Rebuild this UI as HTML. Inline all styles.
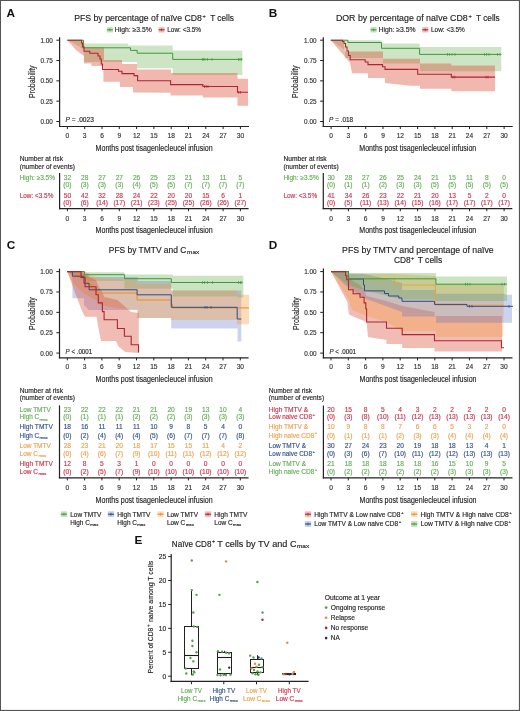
<!DOCTYPE html><html><head><meta charset="utf-8"><style>html,body{margin:0;padding:0;background:#fff;}svg{display:block;will-change:transform;}text{font-family:"Liberation Sans",sans-serif;}</style></head><body>
<svg width="520" height="711" viewBox="0 0 520 711">
<rect x="0" y="0" width="520" height="711" fill="#fff"/>
<text x="6.60" y="16.80" font-size="11.8" fill="#111" font-weight="bold">A</text>
<text x="74.20" y="21.20" font-size="9.2" fill="#222" stroke="#222" stroke-width="0.15" textLength="127.70" lengthAdjust="spacingAndGlyphs">PFS by percentage of naïve CD8</text>
<text x="202.60" y="17.60" font-size="5.6" fill="#222" stroke="#222" stroke-width="0.15">+</text>
<text x="210.20" y="21.20" font-size="9.2" fill="#222" stroke="#222" stroke-width="0.15" textLength="23.70" lengthAdjust="spacingAndGlyphs">T cells</text>
<rect x="106.90" y="27.10" width="6.0" height="5.4" fill="#5aa83a" fill-opacity="0.34"/>
<line x1="106.90" y1="29.80" x2="112.90" y2="29.80" stroke="#3e9a3e" stroke-width="1.1"/>
<line x1="109.90" y1="28.40" x2="109.90" y2="31.20" stroke="#3e9a3e" stroke-width="0.8"/>
<text x="114.80" y="32.40" font-size="6.9" fill="#262626" stroke="#262626" stroke-width="0.15" textLength="37.00" lengthAdjust="spacingAndGlyphs">High: ≥3.5%</text>
<rect x="158.60" y="27.10" width="6.0" height="5.4" fill="#d9442f" fill-opacity="0.34"/>
<line x1="158.60" y1="29.80" x2="164.60" y2="29.80" stroke="#ac2634" stroke-width="1.1"/>
<line x1="161.60" y1="28.40" x2="161.60" y2="31.20" stroke="#ac2634" stroke-width="0.8"/>
<text x="167.30" y="32.40" font-size="6.9" fill="#262626" stroke="#262626" stroke-width="0.15" textLength="33.80" lengthAdjust="spacingAndGlyphs">Low: &lt;3.5%</text>
<path d="M67.40 40.20 L84.00 40.20 L84.00 43.50 L128.00 43.50 L128.00 45.60 L172.70 45.60 L172.70 50.40 L242.30 50.40 L242.30 75.00 L172.70 75.00 L172.70 68.20 L137.00 68.20 L137.00 62.00 L84.00 62.00 L84.00 50.00 L76.00 44.50 L67.40 40.20 Z" fill="#5aa83a" fill-opacity="0.3" stroke="none"/>
<path d="M67.40 40.20 L81.60 40.20 L84.00 47.50 L104.00 47.50 L104.00 60.10 L122.00 60.10 L122.00 64.10 L137.00 64.10 L137.00 69.50 L171.00 69.50 L171.00 72.90 L237.50 72.90 L237.50 78.80 L248.00 78.80 L248.00 105.80 L237.50 105.80 L237.50 97.50 L202.90 97.50 L202.90 95.60 L170.60 95.60 L170.60 92.70 L133.00 92.50 L133.00 87.10 L120.00 87.10 L120.00 81.70 L103.40 81.70 L103.40 66.00 L91.50 66.00 L91.50 63.60 L84.00 63.60 L84.00 56.00 L76.00 50.00 L67.40 40.20 Z" fill="#d9442f" fill-opacity="0.38" stroke="none"/>
<path d="M67.40 40.20 H83.60 V47.80 H130.50 V50.40 H137.20 V53.20 H172.70 V59.40 H242.30" fill="none" stroke="#3e9a3e" stroke-width="1.0" stroke-linejoin="miter"/>
<path d="M67.40 40.20 H81.60 V43.00 H82.60 V47.00 H84.00 V51.30 H89.80 V53.20 H98.00 V56.00 H100.00 V59.00 H101.30 V64.00 H102.50 V69.50 H118.50 V71.20 H122.00 V73.60 H134.00 V75.60 H137.60 V80.80 H170.60 V84.60 H202.90 V86.50 H237.50 V92.30 H248.00" fill="none" stroke="#ac2634" stroke-width="1.1" stroke-linejoin="miter"/>
<line x1="59.60" y1="37.20" x2="59.60" y2="127.05" stroke="#222" stroke-width="1.2"/>
<line x1="59.00" y1="126.50" x2="249.00" y2="126.50" stroke="#222" stroke-width="1.2"/>
<line x1="56.40" y1="40.20" x2="59.60" y2="40.20" stroke="#222" stroke-width="1.0"/>
<text x="52.80" y="42.70" font-size="6.6" fill="#333" stroke="#333" stroke-width="0.15" text-anchor="end" textLength="12.40" lengthAdjust="spacingAndGlyphs">1.00</text>
<line x1="56.40" y1="60.53" x2="59.60" y2="60.53" stroke="#222" stroke-width="1.0"/>
<text x="52.80" y="63.03" font-size="6.6" fill="#333" stroke="#333" stroke-width="0.15" text-anchor="end" textLength="12.40" lengthAdjust="spacingAndGlyphs">0.75</text>
<line x1="56.40" y1="80.85" x2="59.60" y2="80.85" stroke="#222" stroke-width="1.0"/>
<text x="52.80" y="83.35" font-size="6.6" fill="#333" stroke="#333" stroke-width="0.15" text-anchor="end" textLength="12.40" lengthAdjust="spacingAndGlyphs">0.50</text>
<line x1="56.40" y1="101.17" x2="59.60" y2="101.17" stroke="#222" stroke-width="1.0"/>
<text x="52.80" y="103.67" font-size="6.6" fill="#333" stroke="#333" stroke-width="0.15" text-anchor="end" textLength="12.40" lengthAdjust="spacingAndGlyphs">0.25</text>
<line x1="56.40" y1="121.50" x2="59.60" y2="121.50" stroke="#222" stroke-width="1.0"/>
<text x="52.80" y="124.00" font-size="6.6" fill="#333" stroke="#333" stroke-width="0.15" text-anchor="end" textLength="12.40" lengthAdjust="spacingAndGlyphs">0.00</text>
<line x1="67.40" y1="126.50" x2="67.40" y2="129.10" stroke="#222" stroke-width="1.0"/>
<text x="67.40" y="137.80" font-size="6.6" fill="#333" stroke="#333" stroke-width="0.15" text-anchor="middle">0</text>
<line x1="84.70" y1="126.50" x2="84.70" y2="129.10" stroke="#222" stroke-width="1.0"/>
<text x="84.70" y="137.80" font-size="6.6" fill="#333" stroke="#333" stroke-width="0.15" text-anchor="middle">3</text>
<line x1="102.00" y1="126.50" x2="102.00" y2="129.10" stroke="#222" stroke-width="1.0"/>
<text x="102.00" y="137.80" font-size="6.6" fill="#333" stroke="#333" stroke-width="0.15" text-anchor="middle">6</text>
<line x1="119.30" y1="126.50" x2="119.30" y2="129.10" stroke="#222" stroke-width="1.0"/>
<text x="119.30" y="137.80" font-size="6.6" fill="#333" stroke="#333" stroke-width="0.15" text-anchor="middle">9</text>
<line x1="136.60" y1="126.50" x2="136.60" y2="129.10" stroke="#222" stroke-width="1.0"/>
<text x="136.60" y="137.80" font-size="6.6" fill="#333" stroke="#333" stroke-width="0.15" text-anchor="middle">12</text>
<line x1="153.90" y1="126.50" x2="153.90" y2="129.10" stroke="#222" stroke-width="1.0"/>
<text x="153.90" y="137.80" font-size="6.6" fill="#333" stroke="#333" stroke-width="0.15" text-anchor="middle">15</text>
<line x1="171.20" y1="126.50" x2="171.20" y2="129.10" stroke="#222" stroke-width="1.0"/>
<text x="171.20" y="137.80" font-size="6.6" fill="#333" stroke="#333" stroke-width="0.15" text-anchor="middle">18</text>
<line x1="188.50" y1="126.50" x2="188.50" y2="129.10" stroke="#222" stroke-width="1.0"/>
<text x="188.50" y="137.80" font-size="6.6" fill="#333" stroke="#333" stroke-width="0.15" text-anchor="middle">21</text>
<line x1="205.80" y1="126.50" x2="205.80" y2="129.10" stroke="#222" stroke-width="1.0"/>
<text x="205.80" y="137.80" font-size="6.6" fill="#333" stroke="#333" stroke-width="0.15" text-anchor="middle">24</text>
<line x1="223.10" y1="126.50" x2="223.10" y2="129.10" stroke="#222" stroke-width="1.0"/>
<text x="223.10" y="137.80" font-size="6.6" fill="#333" stroke="#333" stroke-width="0.15" text-anchor="middle">27</text>
<line x1="240.40" y1="126.50" x2="240.40" y2="129.10" stroke="#222" stroke-width="1.0"/>
<text x="240.40" y="137.80" font-size="6.6" fill="#333" stroke="#333" stroke-width="0.15" text-anchor="middle">30</text>
<text x="34.80" y="98.10" font-size="8.4" fill="#262626" stroke="#262626" stroke-width="0.15" textLength="32.70" lengthAdjust="spacingAndGlyphs" transform="rotate(-90 34.80 98.10)">Probability</text>
<text x="65.40" y="121.80" font-size="6.6" fill="#262626" stroke="#262626" stroke-width="0.15" textLength="28.40" lengthAdjust="spacingAndGlyphs"><tspan font-style="italic">P</tspan> = .0023</text>
<text x="95.60" y="150.50" font-size="9.1" fill="#222" stroke="#222" stroke-width="0.15" textLength="117.00" lengthAdjust="spacingAndGlyphs">Months post tisagenlecleucel infusion</text>
<text x="19.70" y="161.30" font-size="6.7" fill="#262626" stroke="#262626" stroke-width="0.15" textLength="43.30" lengthAdjust="spacingAndGlyphs">Number at risk</text>
<text x="19.70" y="168.90" font-size="6.7" fill="#262626" stroke="#262626" stroke-width="0.15" textLength="55.30" lengthAdjust="spacingAndGlyphs">(number of events)</text>
<text x="19.70" y="180.20" font-size="6.7" fill="#62ad55" stroke="#62ad55" stroke-width="0.15" textLength="35.30" lengthAdjust="spacingAndGlyphs">High: ≥3.5%</text>
<text x="19.70" y="198.20" font-size="6.7" fill="#c8364f" stroke="#c8364f" stroke-width="0.15" textLength="33.70" lengthAdjust="spacingAndGlyphs">Low: &lt;3.5%</text>
<line x1="59.60" y1="173.00" x2="59.60" y2="209.20" stroke="#222" stroke-width="1.2"/>
<line x1="59.00" y1="208.60" x2="248.60" y2="208.60" stroke="#222" stroke-width="1.2"/>
<text x="67.40" y="179.60" font-size="6.6" fill="#62ad55" stroke="#62ad55" stroke-width="0.15" text-anchor="middle">32</text>
<text x="67.40" y="186.80" font-size="6.6" fill="#62ad55" stroke="#62ad55" stroke-width="0.15" text-anchor="middle">(0)</text>
<text x="67.40" y="197.70" font-size="6.6" fill="#c8364f" stroke="#c8364f" stroke-width="0.15" text-anchor="middle">50</text>
<text x="67.40" y="205.00" font-size="6.6" fill="#c8364f" stroke="#c8364f" stroke-width="0.15" text-anchor="middle">(0)</text>
<text x="84.70" y="179.60" font-size="6.6" fill="#62ad55" stroke="#62ad55" stroke-width="0.15" text-anchor="middle">28</text>
<text x="84.70" y="186.80" font-size="6.6" fill="#62ad55" stroke="#62ad55" stroke-width="0.15" text-anchor="middle">(3)</text>
<text x="84.70" y="197.70" font-size="6.6" fill="#c8364f" stroke="#c8364f" stroke-width="0.15" text-anchor="middle">42</text>
<text x="84.70" y="205.00" font-size="6.6" fill="#c8364f" stroke="#c8364f" stroke-width="0.15" text-anchor="middle">(6)</text>
<text x="102.00" y="179.60" font-size="6.6" fill="#62ad55" stroke="#62ad55" stroke-width="0.15" text-anchor="middle">27</text>
<text x="102.00" y="186.80" font-size="6.6" fill="#62ad55" stroke="#62ad55" stroke-width="0.15" text-anchor="middle">(3)</text>
<text x="102.00" y="197.70" font-size="6.6" fill="#c8364f" stroke="#c8364f" stroke-width="0.15" text-anchor="middle">32</text>
<text x="102.00" y="205.00" font-size="6.6" fill="#c8364f" stroke="#c8364f" stroke-width="0.15" text-anchor="middle">(14)</text>
<text x="119.30" y="179.60" font-size="6.6" fill="#62ad55" stroke="#62ad55" stroke-width="0.15" text-anchor="middle">27</text>
<text x="119.30" y="186.80" font-size="6.6" fill="#62ad55" stroke="#62ad55" stroke-width="0.15" text-anchor="middle">(3)</text>
<text x="119.30" y="197.70" font-size="6.6" fill="#c8364f" stroke="#c8364f" stroke-width="0.15" text-anchor="middle">28</text>
<text x="119.30" y="205.00" font-size="6.6" fill="#c8364f" stroke="#c8364f" stroke-width="0.15" text-anchor="middle">(17)</text>
<text x="136.60" y="179.60" font-size="6.6" fill="#62ad55" stroke="#62ad55" stroke-width="0.15" text-anchor="middle">26</text>
<text x="136.60" y="186.80" font-size="6.6" fill="#62ad55" stroke="#62ad55" stroke-width="0.15" text-anchor="middle">(4)</text>
<text x="136.60" y="197.70" font-size="6.6" fill="#c8364f" stroke="#c8364f" stroke-width="0.15" text-anchor="middle">24</text>
<text x="136.60" y="205.00" font-size="6.6" fill="#c8364f" stroke="#c8364f" stroke-width="0.15" text-anchor="middle">(21)</text>
<text x="153.90" y="179.60" font-size="6.6" fill="#62ad55" stroke="#62ad55" stroke-width="0.15" text-anchor="middle">25</text>
<text x="153.90" y="186.80" font-size="6.6" fill="#62ad55" stroke="#62ad55" stroke-width="0.15" text-anchor="middle">(5)</text>
<text x="153.90" y="197.70" font-size="6.6" fill="#c8364f" stroke="#c8364f" stroke-width="0.15" text-anchor="middle">22</text>
<text x="153.90" y="205.00" font-size="6.6" fill="#c8364f" stroke="#c8364f" stroke-width="0.15" text-anchor="middle">(23)</text>
<text x="171.20" y="179.60" font-size="6.6" fill="#62ad55" stroke="#62ad55" stroke-width="0.15" text-anchor="middle">23</text>
<text x="171.20" y="186.80" font-size="6.6" fill="#62ad55" stroke="#62ad55" stroke-width="0.15" text-anchor="middle">(5)</text>
<text x="171.20" y="197.70" font-size="6.6" fill="#c8364f" stroke="#c8364f" stroke-width="0.15" text-anchor="middle">20</text>
<text x="171.20" y="205.00" font-size="6.6" fill="#c8364f" stroke="#c8364f" stroke-width="0.15" text-anchor="middle">(25)</text>
<text x="188.50" y="179.60" font-size="6.6" fill="#62ad55" stroke="#62ad55" stroke-width="0.15" text-anchor="middle">21</text>
<text x="188.50" y="186.80" font-size="6.6" fill="#62ad55" stroke="#62ad55" stroke-width="0.15" text-anchor="middle">(7)</text>
<text x="188.50" y="197.70" font-size="6.6" fill="#c8364f" stroke="#c8364f" stroke-width="0.15" text-anchor="middle">20</text>
<text x="188.50" y="205.00" font-size="6.6" fill="#c8364f" stroke="#c8364f" stroke-width="0.15" text-anchor="middle">(25)</text>
<text x="205.80" y="179.60" font-size="6.6" fill="#62ad55" stroke="#62ad55" stroke-width="0.15" text-anchor="middle">13</text>
<text x="205.80" y="186.80" font-size="6.6" fill="#62ad55" stroke="#62ad55" stroke-width="0.15" text-anchor="middle">(7)</text>
<text x="205.80" y="197.70" font-size="6.6" fill="#c8364f" stroke="#c8364f" stroke-width="0.15" text-anchor="middle">15</text>
<text x="205.80" y="205.00" font-size="6.6" fill="#c8364f" stroke="#c8364f" stroke-width="0.15" text-anchor="middle">(26)</text>
<text x="223.10" y="179.60" font-size="6.6" fill="#62ad55" stroke="#62ad55" stroke-width="0.15" text-anchor="middle">11</text>
<text x="223.10" y="186.80" font-size="6.6" fill="#62ad55" stroke="#62ad55" stroke-width="0.15" text-anchor="middle">(7)</text>
<text x="223.10" y="197.70" font-size="6.6" fill="#c8364f" stroke="#c8364f" stroke-width="0.15" text-anchor="middle">6</text>
<text x="223.10" y="205.00" font-size="6.6" fill="#c8364f" stroke="#c8364f" stroke-width="0.15" text-anchor="middle">(26)</text>
<text x="240.40" y="179.60" font-size="6.6" fill="#62ad55" stroke="#62ad55" stroke-width="0.15" text-anchor="middle">5</text>
<text x="240.40" y="186.80" font-size="6.6" fill="#62ad55" stroke="#62ad55" stroke-width="0.15" text-anchor="middle">(7)</text>
<text x="240.40" y="197.70" font-size="6.6" fill="#c8364f" stroke="#c8364f" stroke-width="0.15" text-anchor="middle">1</text>
<text x="240.40" y="205.00" font-size="6.6" fill="#c8364f" stroke="#c8364f" stroke-width="0.15" text-anchor="middle">(27)</text>
<line x1="67.40" y1="208.60" x2="67.40" y2="211.20" stroke="#222" stroke-width="1.0"/>
<text x="67.40" y="220.90" font-size="6.6" fill="#333" stroke="#333" stroke-width="0.15" text-anchor="middle">0</text>
<line x1="84.70" y1="208.60" x2="84.70" y2="211.20" stroke="#222" stroke-width="1.0"/>
<text x="84.70" y="220.90" font-size="6.6" fill="#333" stroke="#333" stroke-width="0.15" text-anchor="middle">3</text>
<line x1="102.00" y1="208.60" x2="102.00" y2="211.20" stroke="#222" stroke-width="1.0"/>
<text x="102.00" y="220.90" font-size="6.6" fill="#333" stroke="#333" stroke-width="0.15" text-anchor="middle">6</text>
<line x1="119.30" y1="208.60" x2="119.30" y2="211.20" stroke="#222" stroke-width="1.0"/>
<text x="119.30" y="220.90" font-size="6.6" fill="#333" stroke="#333" stroke-width="0.15" text-anchor="middle">9</text>
<line x1="136.60" y1="208.60" x2="136.60" y2="211.20" stroke="#222" stroke-width="1.0"/>
<text x="136.60" y="220.90" font-size="6.6" fill="#333" stroke="#333" stroke-width="0.15" text-anchor="middle">12</text>
<line x1="153.90" y1="208.60" x2="153.90" y2="211.20" stroke="#222" stroke-width="1.0"/>
<text x="153.90" y="220.90" font-size="6.6" fill="#333" stroke="#333" stroke-width="0.15" text-anchor="middle">15</text>
<line x1="171.20" y1="208.60" x2="171.20" y2="211.20" stroke="#222" stroke-width="1.0"/>
<text x="171.20" y="220.90" font-size="6.6" fill="#333" stroke="#333" stroke-width="0.15" text-anchor="middle">18</text>
<line x1="188.50" y1="208.60" x2="188.50" y2="211.20" stroke="#222" stroke-width="1.0"/>
<text x="188.50" y="220.90" font-size="6.6" fill="#333" stroke="#333" stroke-width="0.15" text-anchor="middle">21</text>
<line x1="205.80" y1="208.60" x2="205.80" y2="211.20" stroke="#222" stroke-width="1.0"/>
<text x="205.80" y="220.90" font-size="6.6" fill="#333" stroke="#333" stroke-width="0.15" text-anchor="middle">24</text>
<line x1="223.10" y1="208.60" x2="223.10" y2="211.20" stroke="#222" stroke-width="1.0"/>
<text x="223.10" y="220.90" font-size="6.6" fill="#333" stroke="#333" stroke-width="0.15" text-anchor="middle">27</text>
<line x1="240.40" y1="208.60" x2="240.40" y2="211.20" stroke="#222" stroke-width="1.0"/>
<text x="240.40" y="220.90" font-size="6.6" fill="#333" stroke="#333" stroke-width="0.15" text-anchor="middle">30</text>
<text x="95.60" y="233.40" font-size="9.1" fill="#222" stroke="#222" stroke-width="0.15" textLength="117.00" lengthAdjust="spacingAndGlyphs">Months post tisagenlecleucel infusion</text>
<text x="268.70" y="16.80" font-size="11.8" fill="#111" font-weight="bold">B</text>
<text x="335.90" y="21.20" font-size="9.2" fill="#222" stroke="#222" stroke-width="0.15" textLength="131.80" lengthAdjust="spacingAndGlyphs">DOR by percentage of naïve CD8</text>
<text x="468.40" y="17.60" font-size="5.6" fill="#222" stroke="#222" stroke-width="0.15">+</text>
<text x="476.00" y="21.20" font-size="9.2" fill="#222" stroke="#222" stroke-width="0.15" textLength="23.70" lengthAdjust="spacingAndGlyphs">T cells</text>
<rect x="370.60" y="27.10" width="6.0" height="5.4" fill="#5aa83a" fill-opacity="0.34"/>
<line x1="370.60" y1="29.80" x2="376.60" y2="29.80" stroke="#3e9a3e" stroke-width="1.1"/>
<line x1="373.60" y1="28.40" x2="373.60" y2="31.20" stroke="#3e9a3e" stroke-width="0.8"/>
<text x="378.50" y="32.40" font-size="6.9" fill="#262626" stroke="#262626" stroke-width="0.15" textLength="37.00" lengthAdjust="spacingAndGlyphs">High: ≥3.5%</text>
<rect x="422.30" y="27.10" width="6.0" height="5.4" fill="#d9442f" fill-opacity="0.34"/>
<line x1="422.30" y1="29.80" x2="428.30" y2="29.80" stroke="#ac2634" stroke-width="1.1"/>
<line x1="425.30" y1="28.40" x2="425.30" y2="31.20" stroke="#ac2634" stroke-width="0.8"/>
<text x="431.00" y="32.40" font-size="6.9" fill="#262626" stroke="#262626" stroke-width="0.15" textLength="33.80" lengthAdjust="spacingAndGlyphs">Low: &lt;3.5%</text>
<path d="M330.80 40.20 L381.50 40.20 L381.50 43.50 L419.60 43.50 L419.60 46.90 L501.30 46.90 L501.30 71.30 L420.00 71.30 L420.00 63.60 L383.00 63.60 L383.00 57.90 L345.00 57.90 L345.00 50.00 L330.80 40.20 Z" fill="#5aa83a" fill-opacity="0.3" stroke="none"/>
<path d="M330.80 40.20 L343.00 40.20 L345.00 51.50 L383.00 51.50 L383.00 58.80 L420.00 58.80 L420.00 63.60 L451.30 63.60 L451.30 65.60 L495.00 65.60 L495.00 91.20 L451.30 91.20 L451.30 88.70 L420.00 88.70 L420.00 85.80 L410.00 85.80 L385.00 82.90 L385.00 78.00 L368.00 78.00 L368.00 73.30 L352.00 73.30 L350.00 62.70 L330.80 40.20 Z" fill="#d9442f" fill-opacity="0.38" stroke="none"/>
<path d="M330.80 40.20 H347.90 V42.50 H381.50 V48.30 H419.60 V54.40 H501.30" fill="none" stroke="#3e9a3e" stroke-width="1.0" stroke-linejoin="miter"/>
<path d="M330.80 40.20 H342.50 V41.50 H344.00 V43.50 H345.50 V47.00 H347.00 V51.00 H348.50 V55.50 H350.20 V59.80 H365.20 V62.00 H368.00 V64.60 H382.50 V66.80 H385.00 V69.40 H417.70 V74.20 H451.30 V77.10 H495.00" fill="none" stroke="#ac2634" stroke-width="1.1" stroke-linejoin="miter"/>
<line x1="323.30" y1="37.20" x2="323.30" y2="127.05" stroke="#222" stroke-width="1.2"/>
<line x1="322.70" y1="126.50" x2="512.70" y2="126.50" stroke="#222" stroke-width="1.2"/>
<line x1="320.10" y1="40.20" x2="323.30" y2="40.20" stroke="#222" stroke-width="1.0"/>
<text x="316.50" y="42.70" font-size="6.6" fill="#333" stroke="#333" stroke-width="0.15" text-anchor="end" textLength="12.40" lengthAdjust="spacingAndGlyphs">1.00</text>
<line x1="320.10" y1="60.53" x2="323.30" y2="60.53" stroke="#222" stroke-width="1.0"/>
<text x="316.50" y="63.03" font-size="6.6" fill="#333" stroke="#333" stroke-width="0.15" text-anchor="end" textLength="12.40" lengthAdjust="spacingAndGlyphs">0.75</text>
<line x1="320.10" y1="80.85" x2="323.30" y2="80.85" stroke="#222" stroke-width="1.0"/>
<text x="316.50" y="83.35" font-size="6.6" fill="#333" stroke="#333" stroke-width="0.15" text-anchor="end" textLength="12.40" lengthAdjust="spacingAndGlyphs">0.50</text>
<line x1="320.10" y1="101.17" x2="323.30" y2="101.17" stroke="#222" stroke-width="1.0"/>
<text x="316.50" y="103.67" font-size="6.6" fill="#333" stroke="#333" stroke-width="0.15" text-anchor="end" textLength="12.40" lengthAdjust="spacingAndGlyphs">0.25</text>
<line x1="320.10" y1="121.50" x2="323.30" y2="121.50" stroke="#222" stroke-width="1.0"/>
<text x="316.50" y="124.00" font-size="6.6" fill="#333" stroke="#333" stroke-width="0.15" text-anchor="end" textLength="12.40" lengthAdjust="spacingAndGlyphs">0.00</text>
<line x1="331.10" y1="126.50" x2="331.10" y2="129.10" stroke="#222" stroke-width="1.0"/>
<text x="331.10" y="137.80" font-size="6.6" fill="#333" stroke="#333" stroke-width="0.15" text-anchor="middle">0</text>
<line x1="348.40" y1="126.50" x2="348.40" y2="129.10" stroke="#222" stroke-width="1.0"/>
<text x="348.40" y="137.80" font-size="6.6" fill="#333" stroke="#333" stroke-width="0.15" text-anchor="middle">3</text>
<line x1="365.70" y1="126.50" x2="365.70" y2="129.10" stroke="#222" stroke-width="1.0"/>
<text x="365.70" y="137.80" font-size="6.6" fill="#333" stroke="#333" stroke-width="0.15" text-anchor="middle">6</text>
<line x1="383.00" y1="126.50" x2="383.00" y2="129.10" stroke="#222" stroke-width="1.0"/>
<text x="383.00" y="137.80" font-size="6.6" fill="#333" stroke="#333" stroke-width="0.15" text-anchor="middle">9</text>
<line x1="400.30" y1="126.50" x2="400.30" y2="129.10" stroke="#222" stroke-width="1.0"/>
<text x="400.30" y="137.80" font-size="6.6" fill="#333" stroke="#333" stroke-width="0.15" text-anchor="middle">12</text>
<line x1="417.60" y1="126.50" x2="417.60" y2="129.10" stroke="#222" stroke-width="1.0"/>
<text x="417.60" y="137.80" font-size="6.6" fill="#333" stroke="#333" stroke-width="0.15" text-anchor="middle">15</text>
<line x1="434.90" y1="126.50" x2="434.90" y2="129.10" stroke="#222" stroke-width="1.0"/>
<text x="434.90" y="137.80" font-size="6.6" fill="#333" stroke="#333" stroke-width="0.15" text-anchor="middle">18</text>
<line x1="452.20" y1="126.50" x2="452.20" y2="129.10" stroke="#222" stroke-width="1.0"/>
<text x="452.20" y="137.80" font-size="6.6" fill="#333" stroke="#333" stroke-width="0.15" text-anchor="middle">21</text>
<line x1="469.50" y1="126.50" x2="469.50" y2="129.10" stroke="#222" stroke-width="1.0"/>
<text x="469.50" y="137.80" font-size="6.6" fill="#333" stroke="#333" stroke-width="0.15" text-anchor="middle">24</text>
<line x1="486.80" y1="126.50" x2="486.80" y2="129.10" stroke="#222" stroke-width="1.0"/>
<text x="486.80" y="137.80" font-size="6.6" fill="#333" stroke="#333" stroke-width="0.15" text-anchor="middle">27</text>
<line x1="504.10" y1="126.50" x2="504.10" y2="129.10" stroke="#222" stroke-width="1.0"/>
<text x="504.10" y="137.80" font-size="6.6" fill="#333" stroke="#333" stroke-width="0.15" text-anchor="middle">30</text>
<text x="298.50" y="98.10" font-size="8.4" fill="#262626" stroke="#262626" stroke-width="0.15" textLength="32.70" lengthAdjust="spacingAndGlyphs" transform="rotate(-90 298.50 98.10)">Probability</text>
<text x="329.10" y="121.80" font-size="6.6" fill="#262626" stroke="#262626" stroke-width="0.15" textLength="24.10" lengthAdjust="spacingAndGlyphs"><tspan font-style="italic">P</tspan> = .018</text>
<text x="359.30" y="150.50" font-size="9.1" fill="#222" stroke="#222" stroke-width="0.15" textLength="117.00" lengthAdjust="spacingAndGlyphs">Months post tisagenlecleucel infusion</text>
<text x="283.40" y="161.30" font-size="6.7" fill="#262626" stroke="#262626" stroke-width="0.15" textLength="43.30" lengthAdjust="spacingAndGlyphs">Number at risk</text>
<text x="283.40" y="168.90" font-size="6.7" fill="#262626" stroke="#262626" stroke-width="0.15" textLength="55.30" lengthAdjust="spacingAndGlyphs">(number of events)</text>
<text x="283.40" y="180.20" font-size="6.7" fill="#62ad55" stroke="#62ad55" stroke-width="0.15" textLength="35.30" lengthAdjust="spacingAndGlyphs">High: ≥3.5%</text>
<text x="283.40" y="198.20" font-size="6.7" fill="#c8364f" stroke="#c8364f" stroke-width="0.15" textLength="33.70" lengthAdjust="spacingAndGlyphs">Low: &lt;3.5%</text>
<line x1="323.30" y1="173.00" x2="323.30" y2="209.20" stroke="#222" stroke-width="1.2"/>
<line x1="322.70" y1="208.60" x2="512.30" y2="208.60" stroke="#222" stroke-width="1.2"/>
<text x="331.10" y="179.60" font-size="6.6" fill="#62ad55" stroke="#62ad55" stroke-width="0.15" text-anchor="middle">30</text>
<text x="331.10" y="186.80" font-size="6.6" fill="#62ad55" stroke="#62ad55" stroke-width="0.15" text-anchor="middle">(0)</text>
<text x="331.10" y="197.70" font-size="6.6" fill="#c8364f" stroke="#c8364f" stroke-width="0.15" text-anchor="middle">41</text>
<text x="331.10" y="205.00" font-size="6.6" fill="#c8364f" stroke="#c8364f" stroke-width="0.15" text-anchor="middle">(0)</text>
<text x="348.40" y="179.60" font-size="6.6" fill="#62ad55" stroke="#62ad55" stroke-width="0.15" text-anchor="middle">28</text>
<text x="348.40" y="186.80" font-size="6.6" fill="#62ad55" stroke="#62ad55" stroke-width="0.15" text-anchor="middle">(1)</text>
<text x="348.40" y="197.70" font-size="6.6" fill="#c8364f" stroke="#c8364f" stroke-width="0.15" text-anchor="middle">34</text>
<text x="348.40" y="205.00" font-size="6.6" fill="#c8364f" stroke="#c8364f" stroke-width="0.15" text-anchor="middle">(5)</text>
<text x="365.70" y="179.60" font-size="6.6" fill="#62ad55" stroke="#62ad55" stroke-width="0.15" text-anchor="middle">27</text>
<text x="365.70" y="186.80" font-size="6.6" fill="#62ad55" stroke="#62ad55" stroke-width="0.15" text-anchor="middle">(1)</text>
<text x="365.70" y="197.70" font-size="6.6" fill="#c8364f" stroke="#c8364f" stroke-width="0.15" text-anchor="middle">26</text>
<text x="365.70" y="205.00" font-size="6.6" fill="#c8364f" stroke="#c8364f" stroke-width="0.15" text-anchor="middle">(11)</text>
<text x="383.00" y="179.60" font-size="6.6" fill="#62ad55" stroke="#62ad55" stroke-width="0.15" text-anchor="middle">26</text>
<text x="383.00" y="186.80" font-size="6.6" fill="#62ad55" stroke="#62ad55" stroke-width="0.15" text-anchor="middle">(2)</text>
<text x="383.00" y="197.70" font-size="6.6" fill="#c8364f" stroke="#c8364f" stroke-width="0.15" text-anchor="middle">23</text>
<text x="383.00" y="205.00" font-size="6.6" fill="#c8364f" stroke="#c8364f" stroke-width="0.15" text-anchor="middle">(13)</text>
<text x="400.30" y="179.60" font-size="6.6" fill="#62ad55" stroke="#62ad55" stroke-width="0.15" text-anchor="middle">25</text>
<text x="400.30" y="186.80" font-size="6.6" fill="#62ad55" stroke="#62ad55" stroke-width="0.15" text-anchor="middle">(3)</text>
<text x="400.30" y="197.70" font-size="6.6" fill="#c8364f" stroke="#c8364f" stroke-width="0.15" text-anchor="middle">22</text>
<text x="400.30" y="205.00" font-size="6.6" fill="#c8364f" stroke="#c8364f" stroke-width="0.15" text-anchor="middle">(14)</text>
<text x="417.60" y="179.60" font-size="6.6" fill="#62ad55" stroke="#62ad55" stroke-width="0.15" text-anchor="middle">24</text>
<text x="417.60" y="186.80" font-size="6.6" fill="#62ad55" stroke="#62ad55" stroke-width="0.15" text-anchor="middle">(3)</text>
<text x="417.60" y="197.70" font-size="6.6" fill="#c8364f" stroke="#c8364f" stroke-width="0.15" text-anchor="middle">21</text>
<text x="417.60" y="205.00" font-size="6.6" fill="#c8364f" stroke="#c8364f" stroke-width="0.15" text-anchor="middle">(15)</text>
<text x="434.90" y="179.60" font-size="6.6" fill="#62ad55" stroke="#62ad55" stroke-width="0.15" text-anchor="middle">21</text>
<text x="434.90" y="186.80" font-size="6.6" fill="#62ad55" stroke="#62ad55" stroke-width="0.15" text-anchor="middle">(5)</text>
<text x="434.90" y="197.70" font-size="6.6" fill="#c8364f" stroke="#c8364f" stroke-width="0.15" text-anchor="middle">20</text>
<text x="434.90" y="205.00" font-size="6.6" fill="#c8364f" stroke="#c8364f" stroke-width="0.15" text-anchor="middle">(16)</text>
<text x="452.20" y="179.60" font-size="6.6" fill="#62ad55" stroke="#62ad55" stroke-width="0.15" text-anchor="middle">15</text>
<text x="452.20" y="186.80" font-size="6.6" fill="#62ad55" stroke="#62ad55" stroke-width="0.15" text-anchor="middle">(5)</text>
<text x="452.20" y="197.70" font-size="6.6" fill="#c8364f" stroke="#c8364f" stroke-width="0.15" text-anchor="middle">13</text>
<text x="452.20" y="205.00" font-size="6.6" fill="#c8364f" stroke="#c8364f" stroke-width="0.15" text-anchor="middle">(17)</text>
<text x="469.50" y="179.60" font-size="6.6" fill="#62ad55" stroke="#62ad55" stroke-width="0.15" text-anchor="middle">11</text>
<text x="469.50" y="186.80" font-size="6.6" fill="#62ad55" stroke="#62ad55" stroke-width="0.15" text-anchor="middle">(5)</text>
<text x="469.50" y="197.70" font-size="6.6" fill="#c8364f" stroke="#c8364f" stroke-width="0.15" text-anchor="middle">5</text>
<text x="469.50" y="205.00" font-size="6.6" fill="#c8364f" stroke="#c8364f" stroke-width="0.15" text-anchor="middle">(17)</text>
<text x="486.80" y="179.60" font-size="6.6" fill="#62ad55" stroke="#62ad55" stroke-width="0.15" text-anchor="middle">8</text>
<text x="486.80" y="186.80" font-size="6.6" fill="#62ad55" stroke="#62ad55" stroke-width="0.15" text-anchor="middle">(5)</text>
<text x="486.80" y="197.70" font-size="6.6" fill="#c8364f" stroke="#c8364f" stroke-width="0.15" text-anchor="middle">2</text>
<text x="486.80" y="205.00" font-size="6.6" fill="#c8364f" stroke="#c8364f" stroke-width="0.15" text-anchor="middle">(17)</text>
<text x="504.10" y="179.60" font-size="6.6" fill="#62ad55" stroke="#62ad55" stroke-width="0.15" text-anchor="middle">0</text>
<text x="504.10" y="186.80" font-size="6.6" fill="#62ad55" stroke="#62ad55" stroke-width="0.15" text-anchor="middle">(5)</text>
<text x="504.10" y="197.70" font-size="6.6" fill="#c8364f" stroke="#c8364f" stroke-width="0.15" text-anchor="middle">0</text>
<text x="504.10" y="205.00" font-size="6.6" fill="#c8364f" stroke="#c8364f" stroke-width="0.15" text-anchor="middle">(17)</text>
<line x1="331.10" y1="208.60" x2="331.10" y2="211.20" stroke="#222" stroke-width="1.0"/>
<text x="331.10" y="220.90" font-size="6.6" fill="#333" stroke="#333" stroke-width="0.15" text-anchor="middle">0</text>
<line x1="348.40" y1="208.60" x2="348.40" y2="211.20" stroke="#222" stroke-width="1.0"/>
<text x="348.40" y="220.90" font-size="6.6" fill="#333" stroke="#333" stroke-width="0.15" text-anchor="middle">3</text>
<line x1="365.70" y1="208.60" x2="365.70" y2="211.20" stroke="#222" stroke-width="1.0"/>
<text x="365.70" y="220.90" font-size="6.6" fill="#333" stroke="#333" stroke-width="0.15" text-anchor="middle">6</text>
<line x1="383.00" y1="208.60" x2="383.00" y2="211.20" stroke="#222" stroke-width="1.0"/>
<text x="383.00" y="220.90" font-size="6.6" fill="#333" stroke="#333" stroke-width="0.15" text-anchor="middle">9</text>
<line x1="400.30" y1="208.60" x2="400.30" y2="211.20" stroke="#222" stroke-width="1.0"/>
<text x="400.30" y="220.90" font-size="6.6" fill="#333" stroke="#333" stroke-width="0.15" text-anchor="middle">12</text>
<line x1="417.60" y1="208.60" x2="417.60" y2="211.20" stroke="#222" stroke-width="1.0"/>
<text x="417.60" y="220.90" font-size="6.6" fill="#333" stroke="#333" stroke-width="0.15" text-anchor="middle">15</text>
<line x1="434.90" y1="208.60" x2="434.90" y2="211.20" stroke="#222" stroke-width="1.0"/>
<text x="434.90" y="220.90" font-size="6.6" fill="#333" stroke="#333" stroke-width="0.15" text-anchor="middle">18</text>
<line x1="452.20" y1="208.60" x2="452.20" y2="211.20" stroke="#222" stroke-width="1.0"/>
<text x="452.20" y="220.90" font-size="6.6" fill="#333" stroke="#333" stroke-width="0.15" text-anchor="middle">21</text>
<line x1="469.50" y1="208.60" x2="469.50" y2="211.20" stroke="#222" stroke-width="1.0"/>
<text x="469.50" y="220.90" font-size="6.6" fill="#333" stroke="#333" stroke-width="0.15" text-anchor="middle">24</text>
<line x1="486.80" y1="208.60" x2="486.80" y2="211.20" stroke="#222" stroke-width="1.0"/>
<text x="486.80" y="220.90" font-size="6.6" fill="#333" stroke="#333" stroke-width="0.15" text-anchor="middle">27</text>
<line x1="504.10" y1="208.60" x2="504.10" y2="211.20" stroke="#222" stroke-width="1.0"/>
<text x="504.10" y="220.90" font-size="6.6" fill="#333" stroke="#333" stroke-width="0.15" text-anchor="middle">30</text>
<text x="359.30" y="233.40" font-size="9.1" fill="#222" stroke="#222" stroke-width="0.15" textLength="117.00" lengthAdjust="spacingAndGlyphs">Months post tisagenlecleucel infusion</text>
<text x="6.80" y="248.60" font-size="11.8" fill="#111" font-weight="bold">C</text>
<text x="108.80" y="252.70" font-size="9.2" fill="#222" stroke="#222" stroke-width="0.15" textLength="77.50" lengthAdjust="spacingAndGlyphs">PFS by TMTV and C</text>
<text x="187.10" y="254.40" font-size="5.9" fill="#222" stroke="#222" stroke-width="0.15" textLength="12.10" lengthAdjust="spacingAndGlyphs">max</text>
<path d="M67.30 271.60 L85.00 271.60 L85.00 272.30 L124.40 272.30 L124.40 274.60 L172.70 274.60 L172.70 275.80 L243.30 275.80 L243.30 297.40 L237.50 297.40 L237.50 296.60 L172.70 296.60 L172.70 288.80 L124.40 288.80 L124.40 281.00 L85.00 281.00 L67.30 271.60 Z" fill="#5aa83a" fill-opacity="0.32" stroke="none"/>
<path d="M67.30 271.60 L84.00 271.60 L84.00 273.50 L88.80 273.50 L88.80 277.00 L137.90 277.00 L137.90 281.00 L171.20 281.00 L171.20 290.50 L241.30 290.50 L241.30 341.60 L237.50 341.60 L237.50 328.60 L171.20 328.60 L171.20 318.00 L137.90 318.00 L137.90 310.00 L88.80 310.00 L84.00 305.00 L84.00 298.30 L72.40 298.30 L72.40 276.00 L67.30 271.60 Z" fill="#5a6ec0" fill-opacity="0.3" stroke="none"/>
<path d="M67.30 271.60 L85.00 271.60 L90.00 275.00 L100.00 278.00 L137.00 280.00 L137.00 284.00 L171.00 284.00 L171.00 290.50 L237.00 290.50 L237.00 294.80 L249.00 294.80 L249.00 324.20 L237.00 324.20 L237.00 320.00 L171.00 320.00 L171.00 318.00 L137.00 318.00 L137.00 310.00 L118.00 308.00 L100.00 305.00 L96.00 300.00 L85.00 294.00 L78.00 288.00 L72.00 282.00 L67.30 271.60 Z" fill="#f59a3a" fill-opacity="0.36" stroke="none"/>
<path d="M67.30 271.60 L81.00 271.60 L85.10 275.00 L96.00 280.00 L98.30 286.00 L102.40 292.00 L104.10 297.00 L117.40 300.00 L124.40 306.00 L131.20 312.00 L138.80 313.00 L138.80 353.00 L125.40 352.00 L118.70 346.70 L115.80 341.00 L101.00 341.00 L98.50 328.50 L96.50 316.80 L85.00 316.80 L82.00 311.00 L74.00 290.00 L67.30 271.60 Z" fill="#d9442f" fill-opacity="0.36" stroke="none"/>
<path d="M67.30 271.60 H84.50 V274.70 H124.60 V278.70 H171.30 V282.50 H242.00" fill="none" stroke="#3e9a3e" stroke-width="1.0" stroke-linejoin="miter"/>
<path d="M67.30 271.60 H76.00 V274.50 H80.00 V277.40 H84.00 V280.30 H88.00 V284.50 H92.00 V288.70 H96.60 V293.00 H137.00 V300.00 H171.30 V304.30 H172.50 V307.90 H249.00" fill="none" stroke="#f08c1c" stroke-width="1.0" stroke-linejoin="miter"/>
<path d="M67.30 271.60 H72.40 V276.20 H84.00 V283.30 H89.10 V289.80 H137.10 V294.80 H171.30 V307.30 H237.20 V319.00 H241.30" fill="none" stroke="#2c4c8c" stroke-width="1.0" stroke-linejoin="miter"/>
<path d="M67.30 271.60 H81.00 V277.50 H85.10 V286.80 H96.00 V294.80 H98.30 V302.90 H102.40 V311.60 H104.10 V319.70 H117.40 V328.50 H124.40 V336.20 H131.20 V344.80 H138.50 V352.50" fill="none" stroke="#ac2634" stroke-width="1.1" stroke-linejoin="miter"/>
<line x1="59.50" y1="268.60" x2="59.50" y2="358.35" stroke="#222" stroke-width="1.2"/>
<line x1="58.90" y1="357.80" x2="248.60" y2="357.80" stroke="#222" stroke-width="1.2"/>
<line x1="56.30" y1="271.60" x2="59.50" y2="271.60" stroke="#222" stroke-width="1.0"/>
<text x="52.70" y="274.10" font-size="6.6" fill="#333" stroke="#333" stroke-width="0.15" text-anchor="end" textLength="12.40" lengthAdjust="spacingAndGlyphs">1.00</text>
<line x1="56.30" y1="291.98" x2="59.50" y2="291.98" stroke="#222" stroke-width="1.0"/>
<text x="52.70" y="294.48" font-size="6.6" fill="#333" stroke="#333" stroke-width="0.15" text-anchor="end" textLength="12.40" lengthAdjust="spacingAndGlyphs">0.75</text>
<line x1="56.30" y1="312.35" x2="59.50" y2="312.35" stroke="#222" stroke-width="1.0"/>
<text x="52.70" y="314.85" font-size="6.6" fill="#333" stroke="#333" stroke-width="0.15" text-anchor="end" textLength="12.40" lengthAdjust="spacingAndGlyphs">0.50</text>
<line x1="56.30" y1="332.73" x2="59.50" y2="332.73" stroke="#222" stroke-width="1.0"/>
<text x="52.70" y="335.23" font-size="6.6" fill="#333" stroke="#333" stroke-width="0.15" text-anchor="end" textLength="12.40" lengthAdjust="spacingAndGlyphs">0.25</text>
<line x1="56.30" y1="353.10" x2="59.50" y2="353.10" stroke="#222" stroke-width="1.0"/>
<text x="52.70" y="355.60" font-size="6.6" fill="#333" stroke="#333" stroke-width="0.15" text-anchor="end" textLength="12.40" lengthAdjust="spacingAndGlyphs">0.00</text>
<line x1="67.30" y1="357.80" x2="67.30" y2="360.40" stroke="#222" stroke-width="1.0"/>
<text x="67.30" y="369.10" font-size="6.6" fill="#333" stroke="#333" stroke-width="0.15" text-anchor="middle">0</text>
<line x1="84.60" y1="357.80" x2="84.60" y2="360.40" stroke="#222" stroke-width="1.0"/>
<text x="84.60" y="369.10" font-size="6.6" fill="#333" stroke="#333" stroke-width="0.15" text-anchor="middle">3</text>
<line x1="101.90" y1="357.80" x2="101.90" y2="360.40" stroke="#222" stroke-width="1.0"/>
<text x="101.90" y="369.10" font-size="6.6" fill="#333" stroke="#333" stroke-width="0.15" text-anchor="middle">6</text>
<line x1="119.20" y1="357.80" x2="119.20" y2="360.40" stroke="#222" stroke-width="1.0"/>
<text x="119.20" y="369.10" font-size="6.6" fill="#333" stroke="#333" stroke-width="0.15" text-anchor="middle">9</text>
<line x1="136.50" y1="357.80" x2="136.50" y2="360.40" stroke="#222" stroke-width="1.0"/>
<text x="136.50" y="369.10" font-size="6.6" fill="#333" stroke="#333" stroke-width="0.15" text-anchor="middle">12</text>
<line x1="153.80" y1="357.80" x2="153.80" y2="360.40" stroke="#222" stroke-width="1.0"/>
<text x="153.80" y="369.10" font-size="6.6" fill="#333" stroke="#333" stroke-width="0.15" text-anchor="middle">15</text>
<line x1="171.10" y1="357.80" x2="171.10" y2="360.40" stroke="#222" stroke-width="1.0"/>
<text x="171.10" y="369.10" font-size="6.6" fill="#333" stroke="#333" stroke-width="0.15" text-anchor="middle">18</text>
<line x1="188.40" y1="357.80" x2="188.40" y2="360.40" stroke="#222" stroke-width="1.0"/>
<text x="188.40" y="369.10" font-size="6.6" fill="#333" stroke="#333" stroke-width="0.15" text-anchor="middle">21</text>
<line x1="205.70" y1="357.80" x2="205.70" y2="360.40" stroke="#222" stroke-width="1.0"/>
<text x="205.70" y="369.10" font-size="6.6" fill="#333" stroke="#333" stroke-width="0.15" text-anchor="middle">24</text>
<line x1="223.00" y1="357.80" x2="223.00" y2="360.40" stroke="#222" stroke-width="1.0"/>
<text x="223.00" y="369.10" font-size="6.6" fill="#333" stroke="#333" stroke-width="0.15" text-anchor="middle">27</text>
<line x1="240.30" y1="357.80" x2="240.30" y2="360.40" stroke="#222" stroke-width="1.0"/>
<text x="240.30" y="369.10" font-size="6.6" fill="#333" stroke="#333" stroke-width="0.15" text-anchor="middle">30</text>
<text x="34.80" y="329.90" font-size="8.4" fill="#262626" stroke="#262626" stroke-width="0.15" textLength="32.70" lengthAdjust="spacingAndGlyphs" transform="rotate(-90 34.80 329.90)">Probability</text>
<text x="65.60" y="353.60" font-size="6.6" fill="#262626" stroke="#262626" stroke-width="0.15" textLength="26.50" lengthAdjust="spacingAndGlyphs"><tspan font-style="italic">P</tspan> &lt; .0001</text>
<text x="95.60" y="381.80" font-size="9.1" fill="#222" stroke="#222" stroke-width="0.15" textLength="117.00" lengthAdjust="spacingAndGlyphs">Months post tisagenlecleucel infusion</text>
<text x="19.70" y="392.70" font-size="6.7" fill="#262626" stroke="#262626" stroke-width="0.15" textLength="43.30" lengthAdjust="spacingAndGlyphs">Number at risk</text>
<text x="19.70" y="400.30" font-size="6.7" fill="#262626" stroke="#262626" stroke-width="0.15" textLength="55.30" lengthAdjust="spacingAndGlyphs">(number of events)</text>
<line x1="59.50" y1="405.40" x2="59.50" y2="478.40" stroke="#222" stroke-width="1.2"/>
<line x1="58.90" y1="477.80" x2="248.60" y2="477.80" stroke="#222" stroke-width="1.2"/>
<line x1="67.30" y1="477.80" x2="67.30" y2="480.40" stroke="#222" stroke-width="1.0"/>
<text x="67.30" y="490.20" font-size="6.6" fill="#333" stroke="#333" stroke-width="0.15" text-anchor="middle">0</text>
<line x1="84.60" y1="477.80" x2="84.60" y2="480.40" stroke="#222" stroke-width="1.0"/>
<text x="84.60" y="490.20" font-size="6.6" fill="#333" stroke="#333" stroke-width="0.15" text-anchor="middle">3</text>
<line x1="101.90" y1="477.80" x2="101.90" y2="480.40" stroke="#222" stroke-width="1.0"/>
<text x="101.90" y="490.20" font-size="6.6" fill="#333" stroke="#333" stroke-width="0.15" text-anchor="middle">6</text>
<line x1="119.20" y1="477.80" x2="119.20" y2="480.40" stroke="#222" stroke-width="1.0"/>
<text x="119.20" y="490.20" font-size="6.6" fill="#333" stroke="#333" stroke-width="0.15" text-anchor="middle">9</text>
<line x1="136.50" y1="477.80" x2="136.50" y2="480.40" stroke="#222" stroke-width="1.0"/>
<text x="136.50" y="490.20" font-size="6.6" fill="#333" stroke="#333" stroke-width="0.15" text-anchor="middle">12</text>
<line x1="153.80" y1="477.80" x2="153.80" y2="480.40" stroke="#222" stroke-width="1.0"/>
<text x="153.80" y="490.20" font-size="6.6" fill="#333" stroke="#333" stroke-width="0.15" text-anchor="middle">15</text>
<line x1="171.10" y1="477.80" x2="171.10" y2="480.40" stroke="#222" stroke-width="1.0"/>
<text x="171.10" y="490.20" font-size="6.6" fill="#333" stroke="#333" stroke-width="0.15" text-anchor="middle">18</text>
<line x1="188.40" y1="477.80" x2="188.40" y2="480.40" stroke="#222" stroke-width="1.0"/>
<text x="188.40" y="490.20" font-size="6.6" fill="#333" stroke="#333" stroke-width="0.15" text-anchor="middle">21</text>
<line x1="205.70" y1="477.80" x2="205.70" y2="480.40" stroke="#222" stroke-width="1.0"/>
<text x="205.70" y="490.20" font-size="6.6" fill="#333" stroke="#333" stroke-width="0.15" text-anchor="middle">24</text>
<line x1="223.00" y1="477.80" x2="223.00" y2="480.40" stroke="#222" stroke-width="1.0"/>
<text x="223.00" y="490.20" font-size="6.6" fill="#333" stroke="#333" stroke-width="0.15" text-anchor="middle">27</text>
<line x1="240.30" y1="477.80" x2="240.30" y2="480.40" stroke="#222" stroke-width="1.0"/>
<text x="240.30" y="490.20" font-size="6.6" fill="#333" stroke="#333" stroke-width="0.15" text-anchor="middle">30</text>
<text x="95.60" y="502.60" font-size="9.1" fill="#222" stroke="#222" stroke-width="0.15" textLength="117.00" lengthAdjust="spacingAndGlyphs">Months post tisagenlecleucel infusion</text>
<text x="19.60" y="411.60" font-size="6.6" fill="#62ad55" stroke="#62ad55" stroke-width="0.15" textLength="31.20" lengthAdjust="spacingAndGlyphs">Low TMTV</text>
<text x="19.60" y="419.40" font-size="6.6" fill="#62ad55" stroke="#62ad55" stroke-width="0.15" textLength="19.60" lengthAdjust="spacingAndGlyphs">High C</text>
<text x="39.60" y="420.70" font-size="3.9" fill="#62ad55" stroke="#62ad55" stroke-width="0.15" textLength="8.10" lengthAdjust="spacingAndGlyphs">max</text>
<text x="19.60" y="429.40" font-size="6.6" fill="#34528e" stroke="#34528e" stroke-width="0.15" textLength="33.20" lengthAdjust="spacingAndGlyphs">High TMTV</text>
<text x="19.60" y="437.50" font-size="6.6" fill="#34528e" stroke="#34528e" stroke-width="0.15" textLength="19.60" lengthAdjust="spacingAndGlyphs">High C</text>
<text x="39.60" y="438.80" font-size="3.9" fill="#34528e" stroke="#34528e" stroke-width="0.15" textLength="8.10" lengthAdjust="spacingAndGlyphs">max</text>
<text x="19.60" y="447.50" font-size="6.6" fill="#eea24e" stroke="#eea24e" stroke-width="0.15" textLength="31.20" lengthAdjust="spacingAndGlyphs">Low TMTV</text>
<text x="19.60" y="455.60" font-size="6.6" fill="#eea24e" stroke="#eea24e" stroke-width="0.15" textLength="18.40" lengthAdjust="spacingAndGlyphs">Low C</text>
<text x="38.40" y="456.90" font-size="3.9" fill="#eea24e" stroke="#eea24e" stroke-width="0.15" textLength="8.10" lengthAdjust="spacingAndGlyphs">max</text>
<text x="19.60" y="465.80" font-size="6.6" fill="#c8364f" stroke="#c8364f" stroke-width="0.15" textLength="33.20" lengthAdjust="spacingAndGlyphs">High TMTV</text>
<text x="19.60" y="473.80" font-size="6.6" fill="#c8364f" stroke="#c8364f" stroke-width="0.15" textLength="18.40" lengthAdjust="spacingAndGlyphs">Low C</text>
<text x="38.40" y="475.10" font-size="3.9" fill="#c8364f" stroke="#c8364f" stroke-width="0.15" textLength="8.10" lengthAdjust="spacingAndGlyphs">max</text>
<text x="67.30" y="411.60" font-size="6.6" fill="#62ad55" stroke="#62ad55" stroke-width="0.15" text-anchor="middle">23</text>
<text x="67.30" y="419.40" font-size="6.6" fill="#62ad55" stroke="#62ad55" stroke-width="0.15" text-anchor="middle">(0)</text>
<text x="84.60" y="411.60" font-size="6.6" fill="#62ad55" stroke="#62ad55" stroke-width="0.15" text-anchor="middle">22</text>
<text x="84.60" y="419.40" font-size="6.6" fill="#62ad55" stroke="#62ad55" stroke-width="0.15" text-anchor="middle">(1)</text>
<text x="101.90" y="411.60" font-size="6.6" fill="#62ad55" stroke="#62ad55" stroke-width="0.15" text-anchor="middle">22</text>
<text x="101.90" y="419.40" font-size="6.6" fill="#62ad55" stroke="#62ad55" stroke-width="0.15" text-anchor="middle">(1)</text>
<text x="119.20" y="411.60" font-size="6.6" fill="#62ad55" stroke="#62ad55" stroke-width="0.15" text-anchor="middle">22</text>
<text x="119.20" y="419.40" font-size="6.6" fill="#62ad55" stroke="#62ad55" stroke-width="0.15" text-anchor="middle">(1)</text>
<text x="136.50" y="411.60" font-size="6.6" fill="#62ad55" stroke="#62ad55" stroke-width="0.15" text-anchor="middle">21</text>
<text x="136.50" y="419.40" font-size="6.6" fill="#62ad55" stroke="#62ad55" stroke-width="0.15" text-anchor="middle">(2)</text>
<text x="153.80" y="411.60" font-size="6.6" fill="#62ad55" stroke="#62ad55" stroke-width="0.15" text-anchor="middle">21</text>
<text x="153.80" y="419.40" font-size="6.6" fill="#62ad55" stroke="#62ad55" stroke-width="0.15" text-anchor="middle">(2)</text>
<text x="171.10" y="411.60" font-size="6.6" fill="#62ad55" stroke="#62ad55" stroke-width="0.15" text-anchor="middle">20</text>
<text x="171.10" y="419.40" font-size="6.6" fill="#62ad55" stroke="#62ad55" stroke-width="0.15" text-anchor="middle">(2)</text>
<text x="188.40" y="411.60" font-size="6.6" fill="#62ad55" stroke="#62ad55" stroke-width="0.15" text-anchor="middle">19</text>
<text x="188.40" y="419.40" font-size="6.6" fill="#62ad55" stroke="#62ad55" stroke-width="0.15" text-anchor="middle">(3)</text>
<text x="205.70" y="411.60" font-size="6.6" fill="#62ad55" stroke="#62ad55" stroke-width="0.15" text-anchor="middle">13</text>
<text x="205.70" y="419.40" font-size="6.6" fill="#62ad55" stroke="#62ad55" stroke-width="0.15" text-anchor="middle">(3)</text>
<text x="223.00" y="411.60" font-size="6.6" fill="#62ad55" stroke="#62ad55" stroke-width="0.15" text-anchor="middle">10</text>
<text x="223.00" y="419.40" font-size="6.6" fill="#62ad55" stroke="#62ad55" stroke-width="0.15" text-anchor="middle">(3)</text>
<text x="240.30" y="411.60" font-size="6.6" fill="#62ad55" stroke="#62ad55" stroke-width="0.15" text-anchor="middle">4</text>
<text x="240.30" y="419.40" font-size="6.6" fill="#62ad55" stroke="#62ad55" stroke-width="0.15" text-anchor="middle">(3)</text>
<text x="67.30" y="429.40" font-size="6.6" fill="#34528e" stroke="#34528e" stroke-width="0.15" text-anchor="middle">18</text>
<text x="67.30" y="437.50" font-size="6.6" fill="#34528e" stroke="#34528e" stroke-width="0.15" text-anchor="middle">(0)</text>
<text x="84.60" y="429.40" font-size="6.6" fill="#34528e" stroke="#34528e" stroke-width="0.15" text-anchor="middle">16</text>
<text x="84.60" y="437.50" font-size="6.6" fill="#34528e" stroke="#34528e" stroke-width="0.15" text-anchor="middle">(2)</text>
<text x="101.90" y="429.40" font-size="6.6" fill="#34528e" stroke="#34528e" stroke-width="0.15" text-anchor="middle">11</text>
<text x="101.90" y="437.50" font-size="6.6" fill="#34528e" stroke="#34528e" stroke-width="0.15" text-anchor="middle">(4)</text>
<text x="119.20" y="429.40" font-size="6.6" fill="#34528e" stroke="#34528e" stroke-width="0.15" text-anchor="middle">11</text>
<text x="119.20" y="437.50" font-size="6.6" fill="#34528e" stroke="#34528e" stroke-width="0.15" text-anchor="middle">(4)</text>
<text x="136.50" y="429.40" font-size="6.6" fill="#34528e" stroke="#34528e" stroke-width="0.15" text-anchor="middle">11</text>
<text x="136.50" y="437.50" font-size="6.6" fill="#34528e" stroke="#34528e" stroke-width="0.15" text-anchor="middle">(4)</text>
<text x="153.80" y="429.40" font-size="6.6" fill="#34528e" stroke="#34528e" stroke-width="0.15" text-anchor="middle">10</text>
<text x="153.80" y="437.50" font-size="6.6" fill="#34528e" stroke="#34528e" stroke-width="0.15" text-anchor="middle">(5)</text>
<text x="171.10" y="429.40" font-size="6.6" fill="#34528e" stroke="#34528e" stroke-width="0.15" text-anchor="middle">9</text>
<text x="171.10" y="437.50" font-size="6.6" fill="#34528e" stroke="#34528e" stroke-width="0.15" text-anchor="middle">(6)</text>
<text x="188.40" y="429.40" font-size="6.6" fill="#34528e" stroke="#34528e" stroke-width="0.15" text-anchor="middle">8</text>
<text x="188.40" y="437.50" font-size="6.6" fill="#34528e" stroke="#34528e" stroke-width="0.15" text-anchor="middle">(7)</text>
<text x="205.70" y="429.40" font-size="6.6" fill="#34528e" stroke="#34528e" stroke-width="0.15" text-anchor="middle">5</text>
<text x="205.70" y="437.50" font-size="6.6" fill="#34528e" stroke="#34528e" stroke-width="0.15" text-anchor="middle">(7)</text>
<text x="223.00" y="429.40" font-size="6.6" fill="#34528e" stroke="#34528e" stroke-width="0.15" text-anchor="middle">4</text>
<text x="223.00" y="437.50" font-size="6.6" fill="#34528e" stroke="#34528e" stroke-width="0.15" text-anchor="middle">(7)</text>
<text x="240.30" y="429.40" font-size="6.6" fill="#34528e" stroke="#34528e" stroke-width="0.15" text-anchor="middle">0</text>
<text x="240.30" y="437.50" font-size="6.6" fill="#34528e" stroke="#34528e" stroke-width="0.15" text-anchor="middle">(8)</text>
<text x="67.30" y="447.50" font-size="6.6" fill="#eea24e" stroke="#eea24e" stroke-width="0.15" text-anchor="middle">28</text>
<text x="67.30" y="455.60" font-size="6.6" fill="#eea24e" stroke="#eea24e" stroke-width="0.15" text-anchor="middle">(0)</text>
<text x="84.60" y="447.50" font-size="6.6" fill="#eea24e" stroke="#eea24e" stroke-width="0.15" text-anchor="middle">23</text>
<text x="84.60" y="455.60" font-size="6.6" fill="#eea24e" stroke="#eea24e" stroke-width="0.15" text-anchor="middle">(4)</text>
<text x="101.90" y="447.50" font-size="6.6" fill="#eea24e" stroke="#eea24e" stroke-width="0.15" text-anchor="middle">21</text>
<text x="101.90" y="455.60" font-size="6.6" fill="#eea24e" stroke="#eea24e" stroke-width="0.15" text-anchor="middle">(6)</text>
<text x="119.20" y="447.50" font-size="6.6" fill="#eea24e" stroke="#eea24e" stroke-width="0.15" text-anchor="middle">20</text>
<text x="119.20" y="455.60" font-size="6.6" fill="#eea24e" stroke="#eea24e" stroke-width="0.15" text-anchor="middle">(7)</text>
<text x="136.50" y="447.50" font-size="6.6" fill="#eea24e" stroke="#eea24e" stroke-width="0.15" text-anchor="middle">18</text>
<text x="136.50" y="455.60" font-size="6.6" fill="#eea24e" stroke="#eea24e" stroke-width="0.15" text-anchor="middle">(9)</text>
<text x="153.80" y="447.50" font-size="6.6" fill="#eea24e" stroke="#eea24e" stroke-width="0.15" text-anchor="middle">17</text>
<text x="153.80" y="455.60" font-size="6.6" fill="#eea24e" stroke="#eea24e" stroke-width="0.15" text-anchor="middle">(10)</text>
<text x="171.10" y="447.50" font-size="6.6" fill="#eea24e" stroke="#eea24e" stroke-width="0.15" text-anchor="middle">15</text>
<text x="171.10" y="455.60" font-size="6.6" fill="#eea24e" stroke="#eea24e" stroke-width="0.15" text-anchor="middle">(11)</text>
<text x="188.40" y="447.50" font-size="6.6" fill="#eea24e" stroke="#eea24e" stroke-width="0.15" text-anchor="middle">15</text>
<text x="188.40" y="455.60" font-size="6.6" fill="#eea24e" stroke="#eea24e" stroke-width="0.15" text-anchor="middle">(11)</text>
<text x="205.70" y="447.50" font-size="6.6" fill="#eea24e" stroke="#eea24e" stroke-width="0.15" text-anchor="middle">11</text>
<text x="205.70" y="455.60" font-size="6.6" fill="#eea24e" stroke="#eea24e" stroke-width="0.15" text-anchor="middle">(12)</text>
<text x="223.00" y="447.50" font-size="6.6" fill="#eea24e" stroke="#eea24e" stroke-width="0.15" text-anchor="middle">4</text>
<text x="223.00" y="455.60" font-size="6.6" fill="#eea24e" stroke="#eea24e" stroke-width="0.15" text-anchor="middle">(12)</text>
<text x="240.30" y="447.50" font-size="6.6" fill="#eea24e" stroke="#eea24e" stroke-width="0.15" text-anchor="middle">2</text>
<text x="240.30" y="455.60" font-size="6.6" fill="#eea24e" stroke="#eea24e" stroke-width="0.15" text-anchor="middle">(12)</text>
<text x="67.30" y="465.80" font-size="6.6" fill="#c8364f" stroke="#c8364f" stroke-width="0.15" text-anchor="middle">12</text>
<text x="67.30" y="473.80" font-size="6.6" fill="#c8364f" stroke="#c8364f" stroke-width="0.15" text-anchor="middle">(0)</text>
<text x="84.60" y="465.80" font-size="6.6" fill="#c8364f" stroke="#c8364f" stroke-width="0.15" text-anchor="middle">8</text>
<text x="84.60" y="473.80" font-size="6.6" fill="#c8364f" stroke="#c8364f" stroke-width="0.15" text-anchor="middle">(2)</text>
<text x="101.90" y="465.80" font-size="6.6" fill="#c8364f" stroke="#c8364f" stroke-width="0.15" text-anchor="middle">5</text>
<text x="101.90" y="473.80" font-size="6.6" fill="#c8364f" stroke="#c8364f" stroke-width="0.15" text-anchor="middle">(5)</text>
<text x="119.20" y="465.80" font-size="6.6" fill="#c8364f" stroke="#c8364f" stroke-width="0.15" text-anchor="middle">3</text>
<text x="119.20" y="473.80" font-size="6.6" fill="#c8364f" stroke="#c8364f" stroke-width="0.15" text-anchor="middle">(7)</text>
<text x="136.50" y="465.80" font-size="6.6" fill="#c8364f" stroke="#c8364f" stroke-width="0.15" text-anchor="middle">1</text>
<text x="136.50" y="473.80" font-size="6.6" fill="#c8364f" stroke="#c8364f" stroke-width="0.15" text-anchor="middle">(9)</text>
<text x="153.80" y="465.80" font-size="6.6" fill="#c8364f" stroke="#c8364f" stroke-width="0.15" text-anchor="middle">0</text>
<text x="153.80" y="473.80" font-size="6.6" fill="#c8364f" stroke="#c8364f" stroke-width="0.15" text-anchor="middle">(10)</text>
<text x="171.10" y="465.80" font-size="6.6" fill="#c8364f" stroke="#c8364f" stroke-width="0.15" text-anchor="middle">0</text>
<text x="171.10" y="473.80" font-size="6.6" fill="#c8364f" stroke="#c8364f" stroke-width="0.15" text-anchor="middle">(10)</text>
<text x="188.40" y="465.80" font-size="6.6" fill="#c8364f" stroke="#c8364f" stroke-width="0.15" text-anchor="middle">0</text>
<text x="188.40" y="473.80" font-size="6.6" fill="#c8364f" stroke="#c8364f" stroke-width="0.15" text-anchor="middle">(10)</text>
<text x="205.70" y="465.80" font-size="6.6" fill="#c8364f" stroke="#c8364f" stroke-width="0.15" text-anchor="middle">0</text>
<text x="205.70" y="473.80" font-size="6.6" fill="#c8364f" stroke="#c8364f" stroke-width="0.15" text-anchor="middle">(10)</text>
<text x="223.00" y="465.80" font-size="6.6" fill="#c8364f" stroke="#c8364f" stroke-width="0.15" text-anchor="middle">0</text>
<text x="223.00" y="473.80" font-size="6.6" fill="#c8364f" stroke="#c8364f" stroke-width="0.15" text-anchor="middle">(10)</text>
<text x="240.30" y="465.80" font-size="6.6" fill="#c8364f" stroke="#c8364f" stroke-width="0.15" text-anchor="middle">0</text>
<text x="240.30" y="473.80" font-size="6.6" fill="#c8364f" stroke="#c8364f" stroke-width="0.15" text-anchor="middle">(10)</text>
<rect x="60.80" y="511.30" width="6.2" height="5.8" fill="#5aa83a" fill-opacity="0.34"/>
<line x1="60.80" y1="514.20" x2="67.00" y2="514.20" stroke="#3e9a3e" stroke-width="1.1"/>
<line x1="63.90" y1="512.80" x2="63.90" y2="515.60" stroke="#3e9a3e" stroke-width="0.8"/>
<text x="70.20" y="517.00" font-size="6.6" fill="#262626" stroke="#262626" stroke-width="0.15" textLength="31.20" lengthAdjust="spacingAndGlyphs">Low TMTV</text>
<text x="70.20" y="524.80" font-size="6.6" fill="#262626" stroke="#262626" stroke-width="0.15" textLength="19.60" lengthAdjust="spacingAndGlyphs">High C</text>
<text x="90.20" y="526.10" font-size="3.9" fill="#262626" stroke="#262626" stroke-width="0.15" textLength="8.10" lengthAdjust="spacingAndGlyphs">max</text>
<rect x="107.90" y="511.30" width="6.2" height="5.8" fill="#5a6ec0" fill-opacity="0.34"/>
<line x1="107.90" y1="514.20" x2="114.10" y2="514.20" stroke="#2c4c8c" stroke-width="1.1"/>
<line x1="111.00" y1="512.80" x2="111.00" y2="515.60" stroke="#2c4c8c" stroke-width="0.8"/>
<text x="117.30" y="517.00" font-size="6.6" fill="#262626" stroke="#262626" stroke-width="0.15" textLength="33.20" lengthAdjust="spacingAndGlyphs">High TMTV</text>
<text x="117.30" y="524.80" font-size="6.6" fill="#262626" stroke="#262626" stroke-width="0.15" textLength="19.60" lengthAdjust="spacingAndGlyphs">High C</text>
<text x="137.30" y="526.10" font-size="3.9" fill="#262626" stroke="#262626" stroke-width="0.15" textLength="8.10" lengthAdjust="spacingAndGlyphs">max</text>
<rect x="157.50" y="511.30" width="6.2" height="5.8" fill="#f59a3a" fill-opacity="0.34"/>
<line x1="157.50" y1="514.20" x2="163.70" y2="514.20" stroke="#f08c1c" stroke-width="1.1"/>
<line x1="160.60" y1="512.80" x2="160.60" y2="515.60" stroke="#f08c1c" stroke-width="0.8"/>
<text x="166.90" y="517.00" font-size="6.6" fill="#262626" stroke="#262626" stroke-width="0.15" textLength="31.20" lengthAdjust="spacingAndGlyphs">Low TMTV</text>
<text x="166.90" y="524.80" font-size="6.6" fill="#262626" stroke="#262626" stroke-width="0.15" textLength="18.40" lengthAdjust="spacingAndGlyphs">Low C</text>
<text x="185.70" y="526.10" font-size="3.9" fill="#262626" stroke="#262626" stroke-width="0.15" textLength="8.10" lengthAdjust="spacingAndGlyphs">max</text>
<rect x="204.90" y="511.30" width="6.2" height="5.8" fill="#d9442f" fill-opacity="0.34"/>
<line x1="204.90" y1="514.20" x2="211.10" y2="514.20" stroke="#ac2634" stroke-width="1.1"/>
<line x1="208.00" y1="512.80" x2="208.00" y2="515.60" stroke="#ac2634" stroke-width="0.8"/>
<text x="214.30" y="517.00" font-size="6.6" fill="#262626" stroke="#262626" stroke-width="0.15" textLength="33.20" lengthAdjust="spacingAndGlyphs">High TMTV</text>
<text x="214.30" y="524.80" font-size="6.6" fill="#262626" stroke="#262626" stroke-width="0.15" textLength="18.40" lengthAdjust="spacingAndGlyphs">Low C</text>
<text x="233.10" y="526.10" font-size="3.9" fill="#262626" stroke="#262626" stroke-width="0.15" textLength="8.10" lengthAdjust="spacingAndGlyphs">max</text>
<text x="268.70" y="248.50" font-size="11.8" fill="#111" font-weight="bold">D</text>
<text x="342.10" y="253.40" font-size="9.2" fill="#222" stroke="#222" stroke-width="0.15" textLength="151.60" lengthAdjust="spacingAndGlyphs">PFS by TMTV and percentage of naïve</text>
<text x="394.00" y="263.30" font-size="9.2" fill="#222" stroke="#222" stroke-width="0.15" textLength="16.80" lengthAdjust="spacingAndGlyphs">CD8</text>
<text x="411.10" y="259.70" font-size="5.6" fill="#222" stroke="#222" stroke-width="0.15">+</text>
<text x="417.70" y="263.30" font-size="9.2" fill="#222" stroke="#222" stroke-width="0.15" textLength="24.50" lengthAdjust="spacingAndGlyphs">T cells</text>
<path d="M331.00 271.60 L345.60 271.60 L349.00 276.00 L353.00 281.00 L360.00 285.00 L364.00 290.00 L366.60 296.00 L386.50 301.00 L402.20 306.00 L434.50 312.00 L434.50 316.00 L502.00 316.00 L502.00 351.50 L434.50 351.50 L434.50 348.10 L402.20 348.10 L402.20 344.00 L386.50 344.00 L386.50 340.00 L368.00 337.00 L366.60 322.00 L353.70 316.80 L349.00 314.50 L347.30 301.80 L331.00 271.60 Z" fill="#d9442f" fill-opacity="0.36" stroke="none"/>
<path d="M331.00 271.60 L349.00 271.60 L349.00 274.00 L395.00 274.00 L436.00 276.00 L436.00 284.00 L504.00 284.00 L503.00 337.00 L436.00 337.00 L436.00 331.00 L402.20 331.00 L386.50 322.00 L366.60 316.00 L352.00 310.00 L349.00 300.00 L331.00 271.60 Z" fill="#f59a3a" fill-opacity="0.33" stroke="none"/>
<path d="M331.00 271.60 L348.50 271.60 L348.50 273.50 L363.50 274.00 L383.00 278.00 L402.00 283.00 L402.00 290.00 L436.00 290.00 L436.00 293.80 L505.00 293.80 L505.00 294.80 L512.00 294.80 L512.00 322.70 L436.00 322.70 L436.00 316.50 L402.00 316.50 L402.00 312.00 L383.00 305.00 L363.50 298.00 L345.00 285.00 L331.00 271.60 Z" fill="#5a6ec0" fill-opacity="0.3" stroke="none"/>
<path d="M331.00 271.60 L348.50 271.60 L348.50 272.90 L436.00 272.90 L436.00 276.50 L507.00 276.50 L507.00 301.00 L436.00 301.00 L436.00 299.60 L402.00 299.60 L363.50 290.00 L348.50 285.00 L331.00 271.60 Z" fill="#5aa83a" fill-opacity="0.32" stroke="none"/>
<path d="M331.00 271.60 H348.50 V278.80 H394.50 V285.00 H435.50 V305.20 H504.00" fill="none" stroke="#e8a040" stroke-width="0.9" stroke-linejoin="miter"/>
<path d="M331.00 271.60 H348.50 V279.00 H363.50 V285.00 H364.50 V290.90 H384.50 V293.50 H388.50 V296.00 H398.80 V298.00 H402.00 V301.30 H434.50 V304.40 H467.00 V306.30 H513.00" fill="none" stroke="#2c4c8c" stroke-width="1.0" stroke-linejoin="miter"/>
<path d="M331.00 271.60 H348.50 V278.80 H435.90 V284.20 H507.00" fill="none" stroke="#3e9a3e" stroke-width="1.0" stroke-linejoin="miter"/>
<path d="M331.00 271.60 H345.60 V275.80 H346.80 V279.80 H348.50 V289.70 H353.10 V293.70 H360.00 V297.20 H364.10 V302.90 H365.80 V308.70 H366.60 V322.00 H386.50 V328.20 H402.20 V334.60 H434.50 V340.70 H501.50 V347.70 H504.00" fill="none" stroke="#ac2634" stroke-width="1.1" stroke-linejoin="miter"/>
<line x1="323.40" y1="268.60" x2="323.40" y2="358.35" stroke="#222" stroke-width="1.2"/>
<line x1="322.80" y1="357.80" x2="512.50" y2="357.80" stroke="#222" stroke-width="1.2"/>
<line x1="320.20" y1="271.60" x2="323.40" y2="271.60" stroke="#222" stroke-width="1.0"/>
<text x="316.60" y="274.10" font-size="6.6" fill="#333" stroke="#333" stroke-width="0.15" text-anchor="end" textLength="12.40" lengthAdjust="spacingAndGlyphs">1.00</text>
<line x1="320.20" y1="291.98" x2="323.40" y2="291.98" stroke="#222" stroke-width="1.0"/>
<text x="316.60" y="294.48" font-size="6.6" fill="#333" stroke="#333" stroke-width="0.15" text-anchor="end" textLength="12.40" lengthAdjust="spacingAndGlyphs">0.75</text>
<line x1="320.20" y1="312.35" x2="323.40" y2="312.35" stroke="#222" stroke-width="1.0"/>
<text x="316.60" y="314.85" font-size="6.6" fill="#333" stroke="#333" stroke-width="0.15" text-anchor="end" textLength="12.40" lengthAdjust="spacingAndGlyphs">0.50</text>
<line x1="320.20" y1="332.73" x2="323.40" y2="332.73" stroke="#222" stroke-width="1.0"/>
<text x="316.60" y="335.23" font-size="6.6" fill="#333" stroke="#333" stroke-width="0.15" text-anchor="end" textLength="12.40" lengthAdjust="spacingAndGlyphs">0.25</text>
<line x1="320.20" y1="353.10" x2="323.40" y2="353.10" stroke="#222" stroke-width="1.0"/>
<text x="316.60" y="355.60" font-size="6.6" fill="#333" stroke="#333" stroke-width="0.15" text-anchor="end" textLength="12.40" lengthAdjust="spacingAndGlyphs">0.00</text>
<line x1="331.00" y1="357.80" x2="331.00" y2="360.40" stroke="#222" stroke-width="1.0"/>
<text x="331.00" y="369.10" font-size="6.6" fill="#333" stroke="#333" stroke-width="0.15" text-anchor="middle">0</text>
<line x1="348.30" y1="357.80" x2="348.30" y2="360.40" stroke="#222" stroke-width="1.0"/>
<text x="348.30" y="369.10" font-size="6.6" fill="#333" stroke="#333" stroke-width="0.15" text-anchor="middle">3</text>
<line x1="365.60" y1="357.80" x2="365.60" y2="360.40" stroke="#222" stroke-width="1.0"/>
<text x="365.60" y="369.10" font-size="6.6" fill="#333" stroke="#333" stroke-width="0.15" text-anchor="middle">6</text>
<line x1="382.90" y1="357.80" x2="382.90" y2="360.40" stroke="#222" stroke-width="1.0"/>
<text x="382.90" y="369.10" font-size="6.6" fill="#333" stroke="#333" stroke-width="0.15" text-anchor="middle">9</text>
<line x1="400.20" y1="357.80" x2="400.20" y2="360.40" stroke="#222" stroke-width="1.0"/>
<text x="400.20" y="369.10" font-size="6.6" fill="#333" stroke="#333" stroke-width="0.15" text-anchor="middle">12</text>
<line x1="417.50" y1="357.80" x2="417.50" y2="360.40" stroke="#222" stroke-width="1.0"/>
<text x="417.50" y="369.10" font-size="6.6" fill="#333" stroke="#333" stroke-width="0.15" text-anchor="middle">15</text>
<line x1="434.80" y1="357.80" x2="434.80" y2="360.40" stroke="#222" stroke-width="1.0"/>
<text x="434.80" y="369.10" font-size="6.6" fill="#333" stroke="#333" stroke-width="0.15" text-anchor="middle">18</text>
<line x1="452.10" y1="357.80" x2="452.10" y2="360.40" stroke="#222" stroke-width="1.0"/>
<text x="452.10" y="369.10" font-size="6.6" fill="#333" stroke="#333" stroke-width="0.15" text-anchor="middle">21</text>
<line x1="469.40" y1="357.80" x2="469.40" y2="360.40" stroke="#222" stroke-width="1.0"/>
<text x="469.40" y="369.10" font-size="6.6" fill="#333" stroke="#333" stroke-width="0.15" text-anchor="middle">24</text>
<line x1="486.70" y1="357.80" x2="486.70" y2="360.40" stroke="#222" stroke-width="1.0"/>
<text x="486.70" y="369.10" font-size="6.6" fill="#333" stroke="#333" stroke-width="0.15" text-anchor="middle">27</text>
<line x1="504.00" y1="357.80" x2="504.00" y2="360.40" stroke="#222" stroke-width="1.0"/>
<text x="504.00" y="369.10" font-size="6.6" fill="#333" stroke="#333" stroke-width="0.15" text-anchor="middle">30</text>
<text x="298.70" y="329.90" font-size="8.4" fill="#262626" stroke="#262626" stroke-width="0.15" textLength="32.70" lengthAdjust="spacingAndGlyphs" transform="rotate(-90 298.70 329.90)">Probability</text>
<text x="329.50" y="353.60" font-size="6.6" fill="#262626" stroke="#262626" stroke-width="0.15" textLength="26.50" lengthAdjust="spacingAndGlyphs"><tspan font-style="italic">P</tspan> &lt; .0001</text>
<text x="359.50" y="381.80" font-size="9.1" fill="#222" stroke="#222" stroke-width="0.15" textLength="117.00" lengthAdjust="spacingAndGlyphs">Months post tisagenlecleucel infusion</text>
<text x="268.80" y="392.70" font-size="6.7" fill="#262626" stroke="#262626" stroke-width="0.15" textLength="43.30" lengthAdjust="spacingAndGlyphs">Number at risk</text>
<text x="268.80" y="400.30" font-size="6.7" fill="#262626" stroke="#262626" stroke-width="0.15" textLength="55.30" lengthAdjust="spacingAndGlyphs">(number of events)</text>
<line x1="323.40" y1="405.40" x2="323.40" y2="478.40" stroke="#222" stroke-width="1.2"/>
<line x1="322.80" y1="477.80" x2="512.50" y2="477.80" stroke="#222" stroke-width="1.2"/>
<line x1="331.00" y1="477.80" x2="331.00" y2="480.40" stroke="#222" stroke-width="1.0"/>
<text x="331.00" y="490.20" font-size="6.6" fill="#333" stroke="#333" stroke-width="0.15" text-anchor="middle">0</text>
<line x1="348.30" y1="477.80" x2="348.30" y2="480.40" stroke="#222" stroke-width="1.0"/>
<text x="348.30" y="490.20" font-size="6.6" fill="#333" stroke="#333" stroke-width="0.15" text-anchor="middle">3</text>
<line x1="365.60" y1="477.80" x2="365.60" y2="480.40" stroke="#222" stroke-width="1.0"/>
<text x="365.60" y="490.20" font-size="6.6" fill="#333" stroke="#333" stroke-width="0.15" text-anchor="middle">6</text>
<line x1="382.90" y1="477.80" x2="382.90" y2="480.40" stroke="#222" stroke-width="1.0"/>
<text x="382.90" y="490.20" font-size="6.6" fill="#333" stroke="#333" stroke-width="0.15" text-anchor="middle">9</text>
<line x1="400.20" y1="477.80" x2="400.20" y2="480.40" stroke="#222" stroke-width="1.0"/>
<text x="400.20" y="490.20" font-size="6.6" fill="#333" stroke="#333" stroke-width="0.15" text-anchor="middle">12</text>
<line x1="417.50" y1="477.80" x2="417.50" y2="480.40" stroke="#222" stroke-width="1.0"/>
<text x="417.50" y="490.20" font-size="6.6" fill="#333" stroke="#333" stroke-width="0.15" text-anchor="middle">15</text>
<line x1="434.80" y1="477.80" x2="434.80" y2="480.40" stroke="#222" stroke-width="1.0"/>
<text x="434.80" y="490.20" font-size="6.6" fill="#333" stroke="#333" stroke-width="0.15" text-anchor="middle">18</text>
<line x1="452.10" y1="477.80" x2="452.10" y2="480.40" stroke="#222" stroke-width="1.0"/>
<text x="452.10" y="490.20" font-size="6.6" fill="#333" stroke="#333" stroke-width="0.15" text-anchor="middle">21</text>
<line x1="469.40" y1="477.80" x2="469.40" y2="480.40" stroke="#222" stroke-width="1.0"/>
<text x="469.40" y="490.20" font-size="6.6" fill="#333" stroke="#333" stroke-width="0.15" text-anchor="middle">24</text>
<line x1="486.70" y1="477.80" x2="486.70" y2="480.40" stroke="#222" stroke-width="1.0"/>
<text x="486.70" y="490.20" font-size="6.6" fill="#333" stroke="#333" stroke-width="0.15" text-anchor="middle">27</text>
<line x1="504.00" y1="477.80" x2="504.00" y2="480.40" stroke="#222" stroke-width="1.0"/>
<text x="504.00" y="490.20" font-size="6.6" fill="#333" stroke="#333" stroke-width="0.15" text-anchor="middle">30</text>
<text x="359.50" y="502.60" font-size="9.1" fill="#222" stroke="#222" stroke-width="0.15" textLength="117.00" lengthAdjust="spacingAndGlyphs">Months post tisagenlecleucel infusion</text>
<text x="268.80" y="411.60" font-size="6.6" fill="#c8364f" stroke="#c8364f" stroke-width="0.15" textLength="39.30" lengthAdjust="spacingAndGlyphs">High TMTV &amp;</text>
<text x="268.80" y="419.40" font-size="6.6" fill="#c8364f" stroke="#c8364f" stroke-width="0.15" textLength="43.20" lengthAdjust="spacingAndGlyphs">Low naive CD8</text>
<text x="312.50" y="416.30" font-size="4.4" fill="#c8364f" stroke="#c8364f" stroke-width="0.15">+</text>
<text x="268.80" y="429.40" font-size="6.6" fill="#eea24e" stroke="#eea24e" stroke-width="0.15" textLength="39.30" lengthAdjust="spacingAndGlyphs">High TMTV &amp;</text>
<text x="268.80" y="437.50" font-size="6.6" fill="#eea24e" stroke="#eea24e" stroke-width="0.15" textLength="45.50" lengthAdjust="spacingAndGlyphs">High naive CD8</text>
<text x="314.80" y="434.40" font-size="4.4" fill="#eea24e" stroke="#eea24e" stroke-width="0.15">+</text>
<text x="268.80" y="447.50" font-size="6.6" fill="#34528e" stroke="#34528e" stroke-width="0.15" textLength="37.20" lengthAdjust="spacingAndGlyphs">Low TMTV &amp;</text>
<text x="268.80" y="455.60" font-size="6.6" fill="#34528e" stroke="#34528e" stroke-width="0.15" textLength="43.20" lengthAdjust="spacingAndGlyphs">Low naive CD8</text>
<text x="312.50" y="452.50" font-size="4.4" fill="#34528e" stroke="#34528e" stroke-width="0.15">+</text>
<text x="268.80" y="465.80" font-size="6.6" fill="#62ad55" stroke="#62ad55" stroke-width="0.15" textLength="37.20" lengthAdjust="spacingAndGlyphs">Low TMTV &amp;</text>
<text x="268.80" y="473.80" font-size="6.6" fill="#62ad55" stroke="#62ad55" stroke-width="0.15" textLength="45.50" lengthAdjust="spacingAndGlyphs">High naive CD8</text>
<text x="314.80" y="470.70" font-size="4.4" fill="#62ad55" stroke="#62ad55" stroke-width="0.15">+</text>
<text x="331.00" y="411.60" font-size="6.6" fill="#c8364f" stroke="#c8364f" stroke-width="0.15" text-anchor="middle">20</text>
<text x="331.00" y="419.40" font-size="6.6" fill="#c8364f" stroke="#c8364f" stroke-width="0.15" text-anchor="middle">(0)</text>
<text x="348.30" y="411.60" font-size="6.6" fill="#c8364f" stroke="#c8364f" stroke-width="0.15" text-anchor="middle">15</text>
<text x="348.30" y="419.40" font-size="6.6" fill="#c8364f" stroke="#c8364f" stroke-width="0.15" text-anchor="middle">(3)</text>
<text x="365.60" y="411.60" font-size="6.6" fill="#c8364f" stroke="#c8364f" stroke-width="0.15" text-anchor="middle">8</text>
<text x="365.60" y="419.40" font-size="6.6" fill="#c8364f" stroke="#c8364f" stroke-width="0.15" text-anchor="middle">(8)</text>
<text x="382.90" y="411.60" font-size="6.6" fill="#c8364f" stroke="#c8364f" stroke-width="0.15" text-anchor="middle">5</text>
<text x="382.90" y="419.40" font-size="6.6" fill="#c8364f" stroke="#c8364f" stroke-width="0.15" text-anchor="middle">(10)</text>
<text x="400.20" y="411.60" font-size="6.6" fill="#c8364f" stroke="#c8364f" stroke-width="0.15" text-anchor="middle">4</text>
<text x="400.20" y="419.40" font-size="6.6" fill="#c8364f" stroke="#c8364f" stroke-width="0.15" text-anchor="middle">(11)</text>
<text x="417.50" y="411.60" font-size="6.6" fill="#c8364f" stroke="#c8364f" stroke-width="0.15" text-anchor="middle">3</text>
<text x="417.50" y="419.40" font-size="6.6" fill="#c8364f" stroke="#c8364f" stroke-width="0.15" text-anchor="middle">(12)</text>
<text x="434.80" y="411.60" font-size="6.6" fill="#c8364f" stroke="#c8364f" stroke-width="0.15" text-anchor="middle">2</text>
<text x="434.80" y="419.40" font-size="6.6" fill="#c8364f" stroke="#c8364f" stroke-width="0.15" text-anchor="middle">(13)</text>
<text x="452.10" y="411.60" font-size="6.6" fill="#c8364f" stroke="#c8364f" stroke-width="0.15" text-anchor="middle">2</text>
<text x="452.10" y="419.40" font-size="6.6" fill="#c8364f" stroke="#c8364f" stroke-width="0.15" text-anchor="middle">(13)</text>
<text x="469.40" y="411.60" font-size="6.6" fill="#c8364f" stroke="#c8364f" stroke-width="0.15" text-anchor="middle">2</text>
<text x="469.40" y="419.40" font-size="6.6" fill="#c8364f" stroke="#c8364f" stroke-width="0.15" text-anchor="middle">(13)</text>
<text x="486.70" y="411.60" font-size="6.6" fill="#c8364f" stroke="#c8364f" stroke-width="0.15" text-anchor="middle">2</text>
<text x="486.70" y="419.40" font-size="6.6" fill="#c8364f" stroke="#c8364f" stroke-width="0.15" text-anchor="middle">(13)</text>
<text x="504.00" y="411.60" font-size="6.6" fill="#c8364f" stroke="#c8364f" stroke-width="0.15" text-anchor="middle">0</text>
<text x="504.00" y="419.40" font-size="6.6" fill="#c8364f" stroke="#c8364f" stroke-width="0.15" text-anchor="middle">(14)</text>
<text x="331.00" y="429.40" font-size="6.6" fill="#eea24e" stroke="#eea24e" stroke-width="0.15" text-anchor="middle">10</text>
<text x="331.00" y="437.50" font-size="6.6" fill="#eea24e" stroke="#eea24e" stroke-width="0.15" text-anchor="middle">(0)</text>
<text x="348.30" y="429.40" font-size="6.6" fill="#eea24e" stroke="#eea24e" stroke-width="0.15" text-anchor="middle">9</text>
<text x="348.30" y="437.50" font-size="6.6" fill="#eea24e" stroke="#eea24e" stroke-width="0.15" text-anchor="middle">(1)</text>
<text x="365.60" y="429.40" font-size="6.6" fill="#eea24e" stroke="#eea24e" stroke-width="0.15" text-anchor="middle">8</text>
<text x="365.60" y="437.50" font-size="6.6" fill="#eea24e" stroke="#eea24e" stroke-width="0.15" text-anchor="middle">(1)</text>
<text x="382.90" y="429.40" font-size="6.6" fill="#eea24e" stroke="#eea24e" stroke-width="0.15" text-anchor="middle">8</text>
<text x="382.90" y="437.50" font-size="6.6" fill="#eea24e" stroke="#eea24e" stroke-width="0.15" text-anchor="middle">(1)</text>
<text x="400.20" y="429.40" font-size="6.6" fill="#eea24e" stroke="#eea24e" stroke-width="0.15" text-anchor="middle">7</text>
<text x="400.20" y="437.50" font-size="6.6" fill="#eea24e" stroke="#eea24e" stroke-width="0.15" text-anchor="middle">(2)</text>
<text x="417.50" y="429.40" font-size="6.6" fill="#eea24e" stroke="#eea24e" stroke-width="0.15" text-anchor="middle">6</text>
<text x="417.50" y="437.50" font-size="6.6" fill="#eea24e" stroke="#eea24e" stroke-width="0.15" text-anchor="middle">(3)</text>
<text x="434.80" y="429.40" font-size="6.6" fill="#eea24e" stroke="#eea24e" stroke-width="0.15" text-anchor="middle">6</text>
<text x="434.80" y="437.50" font-size="6.6" fill="#eea24e" stroke="#eea24e" stroke-width="0.15" text-anchor="middle">(3)</text>
<text x="452.10" y="429.40" font-size="6.6" fill="#eea24e" stroke="#eea24e" stroke-width="0.15" text-anchor="middle">5</text>
<text x="452.10" y="437.50" font-size="6.6" fill="#eea24e" stroke="#eea24e" stroke-width="0.15" text-anchor="middle">(4)</text>
<text x="469.40" y="429.40" font-size="6.6" fill="#eea24e" stroke="#eea24e" stroke-width="0.15" text-anchor="middle">3</text>
<text x="469.40" y="437.50" font-size="6.6" fill="#eea24e" stroke="#eea24e" stroke-width="0.15" text-anchor="middle">(4)</text>
<text x="486.70" y="429.40" font-size="6.6" fill="#eea24e" stroke="#eea24e" stroke-width="0.15" text-anchor="middle">2</text>
<text x="486.70" y="437.50" font-size="6.6" fill="#eea24e" stroke="#eea24e" stroke-width="0.15" text-anchor="middle">(4)</text>
<text x="504.00" y="429.40" font-size="6.6" fill="#eea24e" stroke="#eea24e" stroke-width="0.15" text-anchor="middle">0</text>
<text x="504.00" y="437.50" font-size="6.6" fill="#eea24e" stroke="#eea24e" stroke-width="0.15" text-anchor="middle">(4)</text>
<text x="331.00" y="447.50" font-size="6.6" fill="#34528e" stroke="#34528e" stroke-width="0.15" text-anchor="middle">30</text>
<text x="331.00" y="455.60" font-size="6.6" fill="#34528e" stroke="#34528e" stroke-width="0.15" text-anchor="middle">(0)</text>
<text x="348.30" y="447.50" font-size="6.6" fill="#34528e" stroke="#34528e" stroke-width="0.15" text-anchor="middle">27</text>
<text x="348.30" y="455.60" font-size="6.6" fill="#34528e" stroke="#34528e" stroke-width="0.15" text-anchor="middle">(3)</text>
<text x="365.60" y="447.50" font-size="6.6" fill="#34528e" stroke="#34528e" stroke-width="0.15" text-anchor="middle">24</text>
<text x="365.60" y="455.60" font-size="6.6" fill="#34528e" stroke="#34528e" stroke-width="0.15" text-anchor="middle">(6)</text>
<text x="382.90" y="447.50" font-size="6.6" fill="#34528e" stroke="#34528e" stroke-width="0.15" text-anchor="middle">23</text>
<text x="382.90" y="455.60" font-size="6.6" fill="#34528e" stroke="#34528e" stroke-width="0.15" text-anchor="middle">(7)</text>
<text x="400.20" y="447.50" font-size="6.6" fill="#34528e" stroke="#34528e" stroke-width="0.15" text-anchor="middle">20</text>
<text x="400.20" y="455.60" font-size="6.6" fill="#34528e" stroke="#34528e" stroke-width="0.15" text-anchor="middle">(10)</text>
<text x="417.50" y="447.50" font-size="6.6" fill="#34528e" stroke="#34528e" stroke-width="0.15" text-anchor="middle">19</text>
<text x="417.50" y="455.60" font-size="6.6" fill="#34528e" stroke="#34528e" stroke-width="0.15" text-anchor="middle">(11)</text>
<text x="434.80" y="447.50" font-size="6.6" fill="#34528e" stroke="#34528e" stroke-width="0.15" text-anchor="middle">18</text>
<text x="434.80" y="455.60" font-size="6.6" fill="#34528e" stroke="#34528e" stroke-width="0.15" text-anchor="middle">(12)</text>
<text x="452.10" y="447.50" font-size="6.6" fill="#34528e" stroke="#34528e" stroke-width="0.15" text-anchor="middle">18</text>
<text x="452.10" y="455.60" font-size="6.6" fill="#34528e" stroke="#34528e" stroke-width="0.15" text-anchor="middle">(12)</text>
<text x="469.40" y="447.50" font-size="6.6" fill="#34528e" stroke="#34528e" stroke-width="0.15" text-anchor="middle">13</text>
<text x="469.40" y="455.60" font-size="6.6" fill="#34528e" stroke="#34528e" stroke-width="0.15" text-anchor="middle">(13)</text>
<text x="486.70" y="447.50" font-size="6.6" fill="#34528e" stroke="#34528e" stroke-width="0.15" text-anchor="middle">4</text>
<text x="486.70" y="455.60" font-size="6.6" fill="#34528e" stroke="#34528e" stroke-width="0.15" text-anchor="middle">(13)</text>
<text x="504.00" y="447.50" font-size="6.6" fill="#34528e" stroke="#34528e" stroke-width="0.15" text-anchor="middle">1</text>
<text x="504.00" y="455.60" font-size="6.6" fill="#34528e" stroke="#34528e" stroke-width="0.15" text-anchor="middle">(13)</text>
<text x="331.00" y="465.80" font-size="6.6" fill="#62ad55" stroke="#62ad55" stroke-width="0.15" text-anchor="middle">21</text>
<text x="331.00" y="473.80" font-size="6.6" fill="#62ad55" stroke="#62ad55" stroke-width="0.15" text-anchor="middle">(0)</text>
<text x="348.30" y="465.80" font-size="6.6" fill="#62ad55" stroke="#62ad55" stroke-width="0.15" text-anchor="middle">18</text>
<text x="348.30" y="473.80" font-size="6.6" fill="#62ad55" stroke="#62ad55" stroke-width="0.15" text-anchor="middle">(2)</text>
<text x="365.60" y="465.80" font-size="6.6" fill="#62ad55" stroke="#62ad55" stroke-width="0.15" text-anchor="middle">18</text>
<text x="365.60" y="473.80" font-size="6.6" fill="#62ad55" stroke="#62ad55" stroke-width="0.15" text-anchor="middle">(2)</text>
<text x="382.90" y="465.80" font-size="6.6" fill="#62ad55" stroke="#62ad55" stroke-width="0.15" text-anchor="middle">18</text>
<text x="382.90" y="473.80" font-size="6.6" fill="#62ad55" stroke="#62ad55" stroke-width="0.15" text-anchor="middle">(2)</text>
<text x="400.20" y="465.80" font-size="6.6" fill="#62ad55" stroke="#62ad55" stroke-width="0.15" text-anchor="middle">18</text>
<text x="400.20" y="473.80" font-size="6.6" fill="#62ad55" stroke="#62ad55" stroke-width="0.15" text-anchor="middle">(2)</text>
<text x="417.50" y="465.80" font-size="6.6" fill="#62ad55" stroke="#62ad55" stroke-width="0.15" text-anchor="middle">18</text>
<text x="417.50" y="473.80" font-size="6.6" fill="#62ad55" stroke="#62ad55" stroke-width="0.15" text-anchor="middle">(2)</text>
<text x="434.80" y="465.80" font-size="6.6" fill="#62ad55" stroke="#62ad55" stroke-width="0.15" text-anchor="middle">16</text>
<text x="434.80" y="473.80" font-size="6.6" fill="#62ad55" stroke="#62ad55" stroke-width="0.15" text-anchor="middle">(2)</text>
<text x="452.10" y="465.80" font-size="6.6" fill="#62ad55" stroke="#62ad55" stroke-width="0.15" text-anchor="middle">15</text>
<text x="452.10" y="473.80" font-size="6.6" fill="#62ad55" stroke="#62ad55" stroke-width="0.15" text-anchor="middle">(3)</text>
<text x="469.40" y="465.80" font-size="6.6" fill="#62ad55" stroke="#62ad55" stroke-width="0.15" text-anchor="middle">10</text>
<text x="469.40" y="473.80" font-size="6.6" fill="#62ad55" stroke="#62ad55" stroke-width="0.15" text-anchor="middle">(3)</text>
<text x="486.70" y="465.80" font-size="6.6" fill="#62ad55" stroke="#62ad55" stroke-width="0.15" text-anchor="middle">9</text>
<text x="486.70" y="473.80" font-size="6.6" fill="#62ad55" stroke="#62ad55" stroke-width="0.15" text-anchor="middle">(3)</text>
<text x="504.00" y="465.80" font-size="6.6" fill="#62ad55" stroke="#62ad55" stroke-width="0.15" text-anchor="middle">5</text>
<text x="504.00" y="473.80" font-size="6.6" fill="#62ad55" stroke="#62ad55" stroke-width="0.15" text-anchor="middle">(3)</text>
<rect x="304.90" y="511.30" width="6.2" height="5.8" fill="#d9442f" fill-opacity="0.34"/>
<line x1="304.90" y1="514.20" x2="311.10" y2="514.20" stroke="#ac2634" stroke-width="1.1"/>
<line x1="308.00" y1="512.80" x2="308.00" y2="515.60" stroke="#ac2634" stroke-width="0.8"/>
<text x="314.30" y="516.60" font-size="6.6" fill="#262626" stroke="#262626" stroke-width="0.15" textLength="86.10" lengthAdjust="spacingAndGlyphs">High TMTV &amp; Low naive CD8</text>
<text x="400.90" y="513.50" font-size="4.4" fill="#262626" stroke="#262626" stroke-width="0.15">+</text>
<rect x="411.10" y="511.30" width="6.2" height="5.8" fill="#f59a3a" fill-opacity="0.34"/>
<line x1="411.10" y1="514.20" x2="417.30" y2="514.20" stroke="#f08c1c" stroke-width="1.1"/>
<line x1="414.20" y1="512.80" x2="414.20" y2="515.60" stroke="#f08c1c" stroke-width="0.8"/>
<text x="420.50" y="516.60" font-size="6.6" fill="#262626" stroke="#262626" stroke-width="0.15" textLength="88.20" lengthAdjust="spacingAndGlyphs">High TMTV &amp; High naive CD8</text>
<text x="509.20" y="513.50" font-size="4.4" fill="#262626" stroke="#262626" stroke-width="0.15">+</text>
<rect x="304.90" y="521.10" width="6.2" height="5.8" fill="#5a6ec0" fill-opacity="0.34"/>
<line x1="304.90" y1="524.00" x2="311.10" y2="524.00" stroke="#2c4c8c" stroke-width="1.1"/>
<line x1="308.00" y1="522.60" x2="308.00" y2="525.40" stroke="#2c4c8c" stroke-width="0.8"/>
<text x="314.30" y="526.40" font-size="6.6" fill="#262626" stroke="#262626" stroke-width="0.15" textLength="83.90" lengthAdjust="spacingAndGlyphs">Low TMTV &amp; Low naive CD8</text>
<text x="398.70" y="523.30" font-size="4.4" fill="#262626" stroke="#262626" stroke-width="0.15">+</text>
<rect x="411.10" y="521.10" width="6.2" height="5.8" fill="#5aa83a" fill-opacity="0.34"/>
<line x1="411.10" y1="524.00" x2="417.30" y2="524.00" stroke="#3e9a3e" stroke-width="1.1"/>
<line x1="414.20" y1="522.60" x2="414.20" y2="525.40" stroke="#3e9a3e" stroke-width="0.8"/>
<text x="420.50" y="526.40" font-size="6.6" fill="#262626" stroke="#262626" stroke-width="0.15" textLength="87.40" lengthAdjust="spacingAndGlyphs">Low TMTV &amp; High naive CD8</text>
<text x="508.40" y="523.30" font-size="4.4" fill="#262626" stroke="#262626" stroke-width="0.15">+</text>
<text x="134.60" y="544.30" font-size="11.8" fill="#111" font-weight="bold">E</text>
<text x="171.80" y="546.80" font-size="9.2" fill="#222" stroke="#222" stroke-width="0.15" textLength="39.60" lengthAdjust="spacingAndGlyphs">Naïve CD8</text>
<text x="212.10" y="543.20" font-size="5.6" fill="#222" stroke="#222" stroke-width="0.15">+</text>
<text x="217.20" y="546.80" font-size="9.2" fill="#222" stroke="#222" stroke-width="0.15" textLength="79.40" lengthAdjust="spacingAndGlyphs">T cells by TV and C</text>
<text x="296.90" y="548.40" font-size="5.9" fill="#222" stroke="#222" stroke-width="0.15" textLength="12.30" lengthAdjust="spacingAndGlyphs">max</text>
<line x1="171.20" y1="554.00" x2="171.20" y2="681.90" stroke="#222" stroke-width="1.2"/>
<line x1="170.60" y1="681.30" x2="308.60" y2="681.30" stroke="#222" stroke-width="1.2"/>
<line x1="168.20" y1="676.20" x2="171.20" y2="676.20" stroke="#222" stroke-width="1.0"/>
<text x="166.20" y="678.60" font-size="6.6" fill="#262626" stroke="#262626" stroke-width="0.15" text-anchor="end">0</text>
<line x1="168.20" y1="652.28" x2="171.20" y2="652.28" stroke="#222" stroke-width="1.0"/>
<text x="166.20" y="654.68" font-size="6.6" fill="#262626" stroke="#262626" stroke-width="0.15" text-anchor="end">5</text>
<line x1="168.20" y1="628.36" x2="171.20" y2="628.36" stroke="#222" stroke-width="1.0"/>
<text x="166.20" y="630.76" font-size="6.6" fill="#262626" stroke="#262626" stroke-width="0.15" text-anchor="end">10</text>
<line x1="168.20" y1="604.44" x2="171.20" y2="604.44" stroke="#222" stroke-width="1.0"/>
<text x="166.20" y="606.84" font-size="6.6" fill="#262626" stroke="#262626" stroke-width="0.15" text-anchor="end">15</text>
<line x1="168.20" y1="580.52" x2="171.20" y2="580.52" stroke="#222" stroke-width="1.0"/>
<text x="166.20" y="582.92" font-size="6.6" fill="#262626" stroke="#262626" stroke-width="0.15" text-anchor="end">20</text>
<line x1="168.20" y1="556.60" x2="171.20" y2="556.60" stroke="#222" stroke-width="1.0"/>
<text x="166.20" y="559.00" font-size="6.6" fill="#262626" stroke="#262626" stroke-width="0.15" text-anchor="end">25</text>
<line x1="191.40" y1="681.30" x2="191.40" y2="684.30" stroke="#222" stroke-width="1.0"/>
<line x1="223.80" y1="681.30" x2="223.80" y2="684.30" stroke="#222" stroke-width="1.0"/>
<line x1="256.50" y1="681.30" x2="256.50" y2="684.30" stroke="#222" stroke-width="1.0"/>
<line x1="289.30" y1="681.30" x2="289.30" y2="684.30" stroke="#222" stroke-width="1.0"/>
<g transform="translate(153.1,673.6) rotate(-90)">
<text x="0.00" y="0.00" font-size="8.0" fill="#262626" stroke="#262626" stroke-width="0.15" textLength="45.90" lengthAdjust="spacingAndGlyphs">Percent of CD8</text>
<text x="46.40" y="-3.20" font-size="4.8" fill="#262626" stroke="#262626" stroke-width="0.15">+</text>
<text x="51.50" y="0.00" font-size="8.0" fill="#262626" stroke="#262626" stroke-width="0.15" textLength="61.30" lengthAdjust="spacingAndGlyphs">naive among T cells</text>
</g>
<rect x="184.5" y="626.5" width="14.0" height="42.0" fill="none" stroke="#222" stroke-width="1"/>
<line x1="184.50" y1="655.50" x2="198.50" y2="655.50" stroke="#1a1a1a" stroke-width="1.1"/>
<line x1="191.50" y1="626.50" x2="191.50" y2="590.09" stroke="#222" stroke-width="1.0"/>
<line x1="191.50" y1="668.50" x2="191.50" y2="675.24" stroke="#222" stroke-width="1.0"/>
<rect x="217.5" y="652.5" width="14.0" height="21.0" fill="none" stroke="#222" stroke-width="1"/>
<line x1="217.50" y1="657.50" x2="231.50" y2="657.50" stroke="#1a1a1a" stroke-width="1.1"/>
<line x1="224.50" y1="652.50" x2="224.50" y2="650.84" stroke="#222" stroke-width="1.0"/>
<line x1="224.50" y1="673.50" x2="224.50" y2="675.24" stroke="#222" stroke-width="1.0"/>
<rect x="250.5" y="659.5" width="13.0" height="13.0" fill="none" stroke="#222" stroke-width="1"/>
<line x1="250.50" y1="667.50" x2="263.50" y2="667.50" stroke="#1a1a1a" stroke-width="1.1"/>
<line x1="257.50" y1="659.50" x2="257.50" y2="655.15" stroke="#222" stroke-width="1.0"/>
<line x1="257.50" y1="672.50" x2="257.50" y2="675.24" stroke="#222" stroke-width="1.0"/>
<rect x="282.5" y="673.5" width="13.0" height="1.0" fill="none" stroke="#222" stroke-width="1"/>
<line x1="282.50" y1="674.50" x2="295.50" y2="674.50" stroke="#1a1a1a" stroke-width="1.1"/>
<line x1="289.50" y1="673.50" x2="289.50" y2="673.33" stroke="#222" stroke-width="1.0"/>
<line x1="289.50" y1="674.50" x2="289.50" y2="674.76" stroke="#222" stroke-width="1.0"/>
<circle cx="191.80" cy="560.43" r="1.2" fill="#5a9e50"/>
<circle cx="191.80" cy="590.09" r="1.2" fill="#5a9e50"/>
<circle cx="196.50" cy="594.87" r="1.2" fill="#5a9e50"/>
<circle cx="193.30" cy="612.57" r="1.2" fill="#5a9e50"/>
<circle cx="193.80" cy="626.45" r="1.2" fill="#5a9e50"/>
<circle cx="192.40" cy="640.80" r="1.2" fill="#5a9e50"/>
<circle cx="192.40" cy="646.06" r="1.2" fill="#5a9e50"/>
<circle cx="196.50" cy="652.28" r="1.2" fill="#5a9e50"/>
<circle cx="190.40" cy="658.02" r="1.2" fill="#5a9e50"/>
<circle cx="193.30" cy="661.37" r="1.2" fill="#5a9e50"/>
<circle cx="185.70" cy="668.55" r="1.2" fill="#5a9e50"/>
<circle cx="186.30" cy="673.57" r="1.2" fill="#5a9e50"/>
<circle cx="192.90" cy="674.53" r="1.2" fill="#5a9e50"/>
<circle cx="194.30" cy="672.37" r="1.2" fill="#5a9e50"/>
<circle cx="193.80" cy="671.42" r="1.2" fill="#5a9e50"/>
<circle cx="197.30" cy="626.92" r="1.2" fill="#5a9e50"/>
<circle cx="226.10" cy="561.38" r="1.2" fill="#dc8e50"/>
<circle cx="219.40" cy="594.87" r="1.2" fill="#5a9e50"/>
<circle cx="218.00" cy="651.32" r="1.2" fill="#5a9e50"/>
<circle cx="222.00" cy="651.80" r="1.2" fill="#5a9e50"/>
<circle cx="226.00" cy="652.76" r="1.2" fill="#5a9e50"/>
<circle cx="229.00" cy="653.24" r="1.2" fill="#5a9e50"/>
<circle cx="220.00" cy="669.50" r="1.2" fill="#5a9e50"/>
<circle cx="229.20" cy="667.59" r="1.2" fill="#22345a"/>
<circle cx="217.50" cy="675.00" r="1.2" fill="#5a9e50"/>
<circle cx="220.50" cy="675.24" r="1.2" fill="#5a9e50"/>
<circle cx="226.00" cy="675.00" r="1.2" fill="#5a9e50"/>
<circle cx="230.50" cy="674.76" r="1.2" fill="#5a9e50"/>
<circle cx="223.50" cy="674.76" r="1.2" fill="#5a9e50"/>
<circle cx="257.40" cy="581.96" r="1.2" fill="#5a9e50"/>
<circle cx="262.50" cy="612.57" r="1.2" fill="#5a9e50"/>
<circle cx="262.50" cy="619.75" r="1.2" fill="#a82c30"/>
<circle cx="250.20" cy="655.63" r="1.2" fill="#5a9e50"/>
<circle cx="253.50" cy="657.54" r="1.2" fill="#5a9e50"/>
<circle cx="258.50" cy="657.54" r="1.2" fill="#22345a"/>
<circle cx="261.50" cy="658.50" r="1.2" fill="#5a9e50"/>
<circle cx="255.00" cy="663.76" r="1.2" fill="#dc8e50"/>
<circle cx="259.00" cy="664.72" r="1.2" fill="#5a9e50"/>
<circle cx="251.50" cy="668.55" r="1.2" fill="#dc8e50"/>
<circle cx="254.00" cy="669.98" r="1.2" fill="#5a9e50"/>
<circle cx="257.50" cy="671.42" r="1.2" fill="#5a9e50"/>
<circle cx="260.50" cy="672.37" r="1.2" fill="#5a9e50"/>
<circle cx="255.50" cy="674.29" r="1.2" fill="#5a9e50"/>
<circle cx="258.50" cy="674.76" r="1.2" fill="#5a9e50"/>
<circle cx="252.50" cy="673.33" r="1.2" fill="#5a9e50"/>
<circle cx="262.50" cy="667.11" r="1.2" fill="#5a9e50"/>
<circle cx="256.50" cy="666.63" r="1.2" fill="#dc8e50"/>
<circle cx="287.30" cy="642.71" r="1.2" fill="#dc8e50"/>
<circle cx="283.50" cy="674.29" r="1.2" fill="#dc8e50"/>
<circle cx="286.00" cy="674.05" r="1.2" fill="#a82c30"/>
<circle cx="289.50" cy="674.29" r="1.2" fill="#22345a"/>
<circle cx="292.50" cy="673.81" r="1.2" fill="#dc8e50"/>
<circle cx="294.00" cy="671.89" r="1.2" fill="#dc8e50"/>
<text x="191.50" y="693.40" font-size="6.6" fill="#62ad55" stroke="#62ad55" stroke-width="0.15" text-anchor="middle" textLength="20.80" lengthAdjust="spacingAndGlyphs">Low TV</text>
<text x="177.45" y="701.10" font-size="6.6" fill="#62ad55" stroke="#62ad55" stroke-width="0.15" textLength="19.60" lengthAdjust="spacingAndGlyphs">High C</text>
<text x="197.45" y="702.40" font-size="3.9" fill="#62ad55" stroke="#62ad55" stroke-width="0.15" textLength="8.10" lengthAdjust="spacingAndGlyphs">max</text>
<text x="223.80" y="693.40" font-size="6.6" fill="#34528e" stroke="#34528e" stroke-width="0.15" text-anchor="middle" textLength="22.60" lengthAdjust="spacingAndGlyphs">High TV</text>
<text x="209.75" y="701.10" font-size="6.6" fill="#34528e" stroke="#34528e" stroke-width="0.15" textLength="19.60" lengthAdjust="spacingAndGlyphs">High C</text>
<text x="229.75" y="702.40" font-size="3.9" fill="#34528e" stroke="#34528e" stroke-width="0.15" textLength="8.10" lengthAdjust="spacingAndGlyphs">max</text>
<text x="256.50" y="693.40" font-size="6.6" fill="#eea24e" stroke="#eea24e" stroke-width="0.15" text-anchor="middle" textLength="20.80" lengthAdjust="spacingAndGlyphs">Low TV</text>
<text x="243.05" y="701.10" font-size="6.6" fill="#eea24e" stroke="#eea24e" stroke-width="0.15" textLength="18.40" lengthAdjust="spacingAndGlyphs">Low C</text>
<text x="261.85" y="702.40" font-size="3.9" fill="#eea24e" stroke="#eea24e" stroke-width="0.15" textLength="8.10" lengthAdjust="spacingAndGlyphs">max</text>
<text x="289.30" y="693.40" font-size="6.6" fill="#c8364f" stroke="#c8364f" stroke-width="0.15" text-anchor="middle" textLength="22.60" lengthAdjust="spacingAndGlyphs">High TV</text>
<text x="275.85" y="701.10" font-size="6.6" fill="#c8364f" stroke="#c8364f" stroke-width="0.15" textLength="18.40" lengthAdjust="spacingAndGlyphs">Low C</text>
<text x="294.65" y="702.40" font-size="3.9" fill="#c8364f" stroke="#c8364f" stroke-width="0.15" textLength="8.10" lengthAdjust="spacingAndGlyphs">max</text>
<text x="324.70" y="599.90" font-size="6.8" fill="#262626" stroke="#262626" stroke-width="0.15" textLength="55.40" lengthAdjust="spacingAndGlyphs">Outcome at 1 year</text>
<circle cx="326.1" cy="607.60" r="1.35" fill="#5a9e50"/>
<text x="330.80" y="610.00" font-size="6.8" fill="#262626" stroke="#262626" stroke-width="0.15" textLength="54.50" lengthAdjust="spacingAndGlyphs">Ongoing response</text>
<circle cx="326.1" cy="617.75" r="1.35" fill="#dc8e50"/>
<text x="330.80" y="620.15" font-size="6.8" fill="#262626" stroke="#262626" stroke-width="0.15" textLength="24.00" lengthAdjust="spacingAndGlyphs">Relapse</text>
<circle cx="326.1" cy="627.90" r="1.35" fill="#a82c30"/>
<text x="330.80" y="630.30" font-size="6.8" fill="#262626" stroke="#262626" stroke-width="0.15" textLength="37.50" lengthAdjust="spacingAndGlyphs">No response</text>
<circle cx="326.1" cy="638.05" r="1.35" fill="#22345a"/>
<text x="330.80" y="640.45" font-size="6.8" fill="#262626" stroke="#262626" stroke-width="0.15" textLength="9.00" lengthAdjust="spacingAndGlyphs">NA</text>
<line x1="202.40" y1="58.10" x2="202.40" y2="60.70" stroke="#3e9a3e" stroke-width="0.8"/>
<line x1="203.60" y1="58.10" x2="203.60" y2="60.70" stroke="#3e9a3e" stroke-width="0.8"/>
<line x1="205.00" y1="58.10" x2="205.00" y2="60.70" stroke="#3e9a3e" stroke-width="0.8"/>
<line x1="207.50" y1="58.10" x2="207.50" y2="60.70" stroke="#3e9a3e" stroke-width="0.8"/>
<line x1="212.00" y1="58.10" x2="212.00" y2="60.70" stroke="#3e9a3e" stroke-width="0.8"/>
<line x1="238.50" y1="58.10" x2="238.50" y2="60.70" stroke="#3e9a3e" stroke-width="0.8"/>
<line x1="240.00" y1="58.10" x2="240.00" y2="60.70" stroke="#3e9a3e" stroke-width="0.8"/>
<line x1="241.60" y1="58.10" x2="241.60" y2="60.70" stroke="#3e9a3e" stroke-width="0.8"/>
<line x1="204.50" y1="85.20" x2="204.50" y2="87.80" stroke="#ac2634" stroke-width="0.8"/>
<line x1="206.20" y1="85.20" x2="206.20" y2="87.80" stroke="#ac2634" stroke-width="0.8"/>
<line x1="208.00" y1="85.20" x2="208.00" y2="87.80" stroke="#ac2634" stroke-width="0.8"/>
<line x1="238.60" y1="91.00" x2="238.60" y2="93.60" stroke="#ac2634" stroke-width="0.8"/>
<line x1="240.40" y1="91.00" x2="240.40" y2="93.60" stroke="#ac2634" stroke-width="0.8"/>
<line x1="447.50" y1="53.10" x2="447.50" y2="55.70" stroke="#3e9a3e" stroke-width="0.8"/>
<line x1="449.50" y1="53.10" x2="449.50" y2="55.70" stroke="#3e9a3e" stroke-width="0.8"/>
<line x1="452.00" y1="53.10" x2="452.00" y2="55.70" stroke="#3e9a3e" stroke-width="0.8"/>
<line x1="455.00" y1="53.10" x2="455.00" y2="55.70" stroke="#3e9a3e" stroke-width="0.8"/>
<line x1="484.50" y1="53.10" x2="484.50" y2="55.70" stroke="#3e9a3e" stroke-width="0.8"/>
<line x1="486.50" y1="53.10" x2="486.50" y2="55.70" stroke="#3e9a3e" stroke-width="0.8"/>
<line x1="489.00" y1="53.10" x2="489.00" y2="55.70" stroke="#3e9a3e" stroke-width="0.8"/>
<line x1="497.50" y1="53.10" x2="497.50" y2="55.70" stroke="#3e9a3e" stroke-width="0.8"/>
<line x1="500.00" y1="53.10" x2="500.00" y2="55.70" stroke="#3e9a3e" stroke-width="0.8"/>
<line x1="453.00" y1="75.80" x2="453.00" y2="78.40" stroke="#ac2634" stroke-width="0.8"/>
<line x1="454.80" y1="75.80" x2="454.80" y2="78.40" stroke="#ac2634" stroke-width="0.8"/>
<line x1="486.00" y1="75.80" x2="486.00" y2="78.40" stroke="#ac2634" stroke-width="0.8"/>
<line x1="488.00" y1="75.80" x2="488.00" y2="78.40" stroke="#ac2634" stroke-width="0.8"/>
<line x1="202.50" y1="281.20" x2="202.50" y2="283.80" stroke="#3e9a3e" stroke-width="0.8"/>
<line x1="204.50" y1="281.20" x2="204.50" y2="283.80" stroke="#3e9a3e" stroke-width="0.8"/>
<line x1="207.50" y1="281.20" x2="207.50" y2="283.80" stroke="#3e9a3e" stroke-width="0.8"/>
<line x1="212.50" y1="281.20" x2="212.50" y2="283.80" stroke="#3e9a3e" stroke-width="0.8"/>
<line x1="238.50" y1="281.20" x2="238.50" y2="283.80" stroke="#3e9a3e" stroke-width="0.8"/>
<line x1="240.50" y1="281.20" x2="240.50" y2="283.80" stroke="#3e9a3e" stroke-width="0.8"/>
<line x1="242.00" y1="281.20" x2="242.00" y2="283.80" stroke="#3e9a3e" stroke-width="0.8"/>
<line x1="205.00" y1="306.00" x2="205.00" y2="308.60" stroke="#2c4c8c" stroke-width="0.8"/>
<line x1="207.00" y1="306.00" x2="207.00" y2="308.60" stroke="#2c4c8c" stroke-width="0.8"/>
<line x1="211.00" y1="306.00" x2="211.00" y2="308.60" stroke="#2c4c8c" stroke-width="0.8"/>
<line x1="465.50" y1="282.90" x2="465.50" y2="285.50" stroke="#3e9a3e" stroke-width="0.8"/>
<line x1="467.50" y1="282.90" x2="467.50" y2="285.50" stroke="#3e9a3e" stroke-width="0.8"/>
<line x1="470.00" y1="282.90" x2="470.00" y2="285.50" stroke="#3e9a3e" stroke-width="0.8"/>
<line x1="502.00" y1="282.90" x2="502.00" y2="285.50" stroke="#3e9a3e" stroke-width="0.8"/>
<line x1="504.50" y1="282.90" x2="504.50" y2="285.50" stroke="#3e9a3e" stroke-width="0.8"/>
<line x1="469.50" y1="305.00" x2="469.50" y2="307.60" stroke="#2c4c8c" stroke-width="0.8"/>
<line x1="472.00" y1="305.00" x2="472.00" y2="307.60" stroke="#2c4c8c" stroke-width="0.8"/>
<line x1="509.00" y1="305.00" x2="509.00" y2="307.60" stroke="#2c4c8c" stroke-width="0.8"/>
<rect x="0" y="0" width="520" height="1" fill="#555"/>
<rect x="0" y="0" width="1" height="711" fill="#555"/>
<rect x="518.9" y="0" width="1.1" height="711" fill="#555"/>
<rect x="0" y="709.9" width="520" height="1.1" fill="#555"/>
</svg></body></html>
